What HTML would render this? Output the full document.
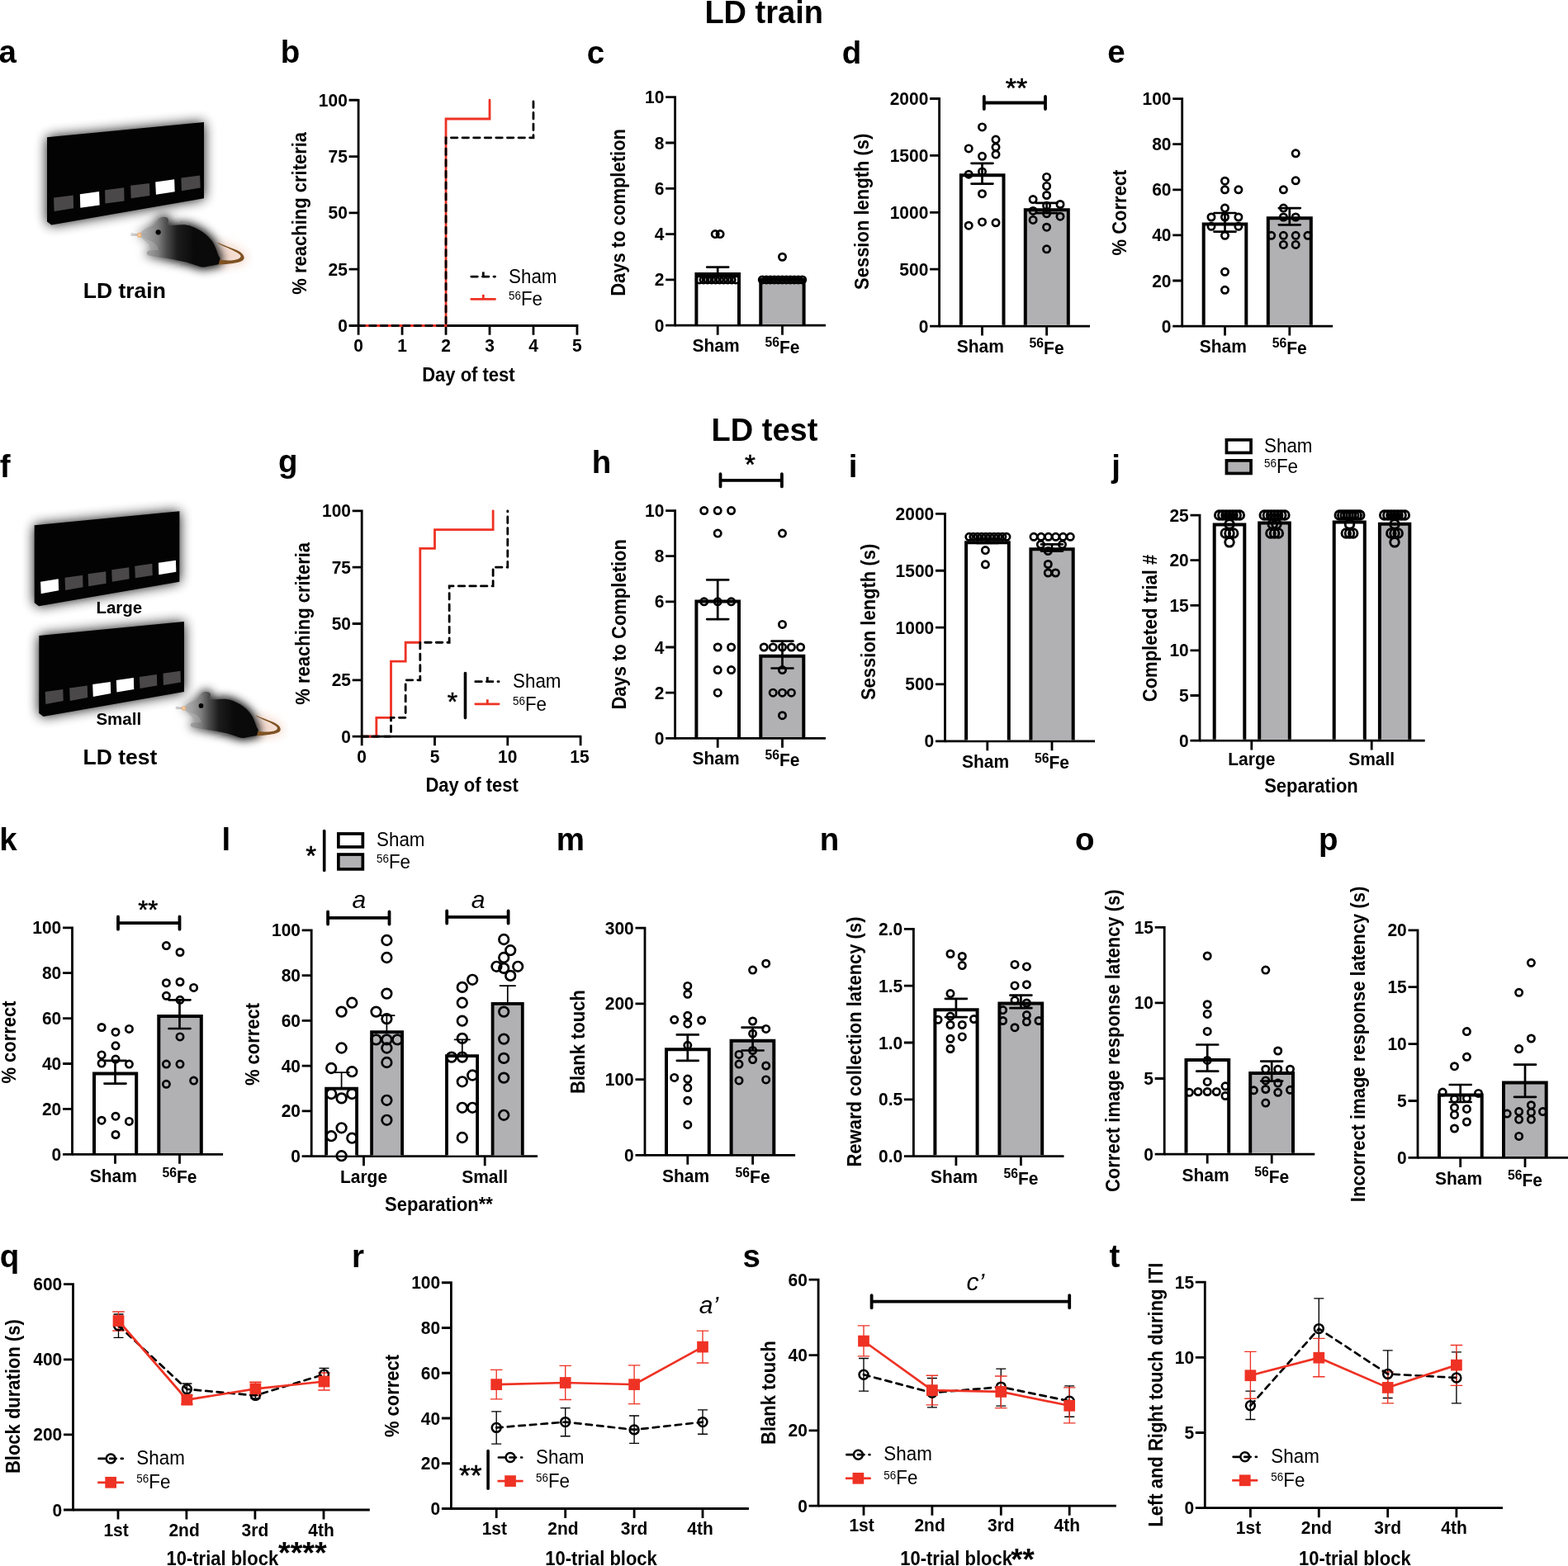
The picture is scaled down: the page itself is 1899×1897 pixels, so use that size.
<!DOCTYPE html>
<html lang="en"><head><meta charset="utf-8"><title>LD train / LD test</title>
<style>html,body{margin:0;padding:0;background:#fff}svg{display:block}text{font-family:"Liberation Sans",Arial,Helvetica,sans-serif;font-weight:bold;fill:#000}.n{font-weight:normal}</style>
</head><body>
<svg width="1899" height="1897" viewBox="0 0 1899 1897">
<rect width="1899" height="1897" fill="#fff"/>
<defs><filter id="glow" x="-30%" y="-30%" width="160%" height="160%"><feGaussianBlur stdDeviation="7.5"/></filter><filter id="mglow" x="-30%" y="-40%" width="160%" height="180%"><feGaussianBlur stdDeviation="62"/></filter><linearGradient id="mgrad" gradientUnits="userSpaceOnUse" x1="300" y1="0" x2="1000" y2="0"><stop offset="0" stop-color="#bcbcbc"/><stop offset="0.2" stop-color="#9a9a9a"/><stop offset="0.35" stop-color="#7e7e7e"/><stop offset="0.5" stop-color="#4c4d4c"/><stop offset="0.7" stop-color="#1b1c1b"/><stop offset="1" stop-color="#0a0a0a"/></linearGradient><linearGradient id="mgrad2" gradientUnits="userSpaceOnUse" x1="300" y1="0" x2="1000" y2="0"><stop offset="0" stop-color="#b4b4b4" stop-opacity="0.6"/><stop offset="0.3" stop-color="#666"/><stop offset="0.6" stop-color="#1a1a1a"/><stop offset="1" stop-color="#000"/></linearGradient><linearGradient id="pgrad" gradientUnits="userSpaceOnUse" x1="420" y1="0" x2="560" y2="0"><stop offset="0" stop-color="#b0b0b0"/><stop offset="1" stop-color="#8a8a8a"/></linearGradient><radialGradient id="ngrad"><stop offset="0" stop-color="#fbd9b5"/><stop offset="0.7" stop-color="#f0b880"/><stop offset="1" stop-color="#e0a878"/></radialGradient></defs>
<polygon points="57,166.32 247,148.04 247,240.17 62.38,272.43 57,268.49" fill="#000" filter="url(#glow)" opacity="0.95"/>
<polygon points="57,166.32 247,148.04 247,240.17 62.38,272.43 57,268.49" fill="#030303"/>
<polygon points="65.07,239.45 88.73,236.58 89.08,252.36 65.6,255.94" fill="#4a4849"/>
<polygon points="96.79,235.33 120.09,232.1 120.63,248.41 97.33,251.82" fill="#fff"/>
<polygon points="127.08,230.13 150.21,227.26 150.56,243.39 127.44,246.62" fill="#4a4849"/>
<polygon points="158.09,224.75 181.04,221.89 181.39,237.12 158.63,240.17" fill="#4a4849"/>
<polygon points="188.21,220.45 211.15,217.23 211.69,232.28 188.92,235.87" fill="#fff"/>
<polygon points="219.39,215.61 242.16,212.56 242.7,227.62 219.93,231.21" fill="#4a4849"/>
<g transform="translate(140 250) scale(0.09479)">
<path d="M1320 470 C1500 520 1660 600 1650 670 C1640 720 1500 740 1320 745 Z" fill="#e6a98c" stroke="#e6a98c" stroke-width="60" filter="url(#mglow)" opacity="0.42"/>
<path d="M300 348 C340 310 400 272 470 250 C500 240 515 215 530 190 C545 160 565 138 600 136 C640 134 668 140 674 172 C678 200 665 222 645 236 C700 250 760 240 850 236 C930 234 1000 262 1090 314 C1170 362 1230 430 1262 492 C1290 550 1300 600 1318 636 C1338 658 1340 672 1328 690 L1316 742 C1260 752 1200 760 1150 772 C1110 780 1080 772 1040 756 C960 726 860 700 760 682 C660 664 560 648 470 636 C430 632 400 625 398 600 C396 575 420 562 450 562 C490 562 530 570 560 560 C556 520 520 480 470 458 C420 436 380 420 345 392 C330 384 312 382 300 380 Z" fill="url(#mgrad2)" stroke="url(#mgrad2)" stroke-width="60" filter="url(#mglow)" opacity="1"/>
<path d="M1300 462 C1380 496 1470 526 1548 560 C1606 588 1646 622 1642 662 C1636 700 1580 716 1500 728 C1440 738 1380 742 1314 744 L1318 676 C1400 698 1490 694 1550 678 C1600 664 1608 640 1588 618 C1540 572 1400 524 1310 476 Z" fill="#7f5222"/>
<path d="M300 348 C340 310 400 272 470 250 C500 240 515 215 530 190 C545 160 565 138 600 136 C640 134 668 140 674 172 C678 200 665 222 645 236 C700 250 760 240 850 236 C930 234 1000 262 1090 314 C1170 362 1230 430 1262 492 C1290 550 1300 600 1318 636 C1338 658 1340 672 1328 690 L1316 742 C1260 752 1200 760 1150 772 C1110 780 1080 772 1040 756 C960 726 860 700 760 682 C660 664 560 648 470 636 C430 632 400 625 398 600 C396 575 420 562 450 562 C490 562 530 570 560 560 C556 520 520 480 470 458 C420 436 380 420 345 392 C330 384 312 382 300 380 Z" fill="url(#mgrad)"/>
<path d="M430 440 C480 450 540 490 556 558 C520 566 480 560 450 562 C440 530 430 480 420 445 Z" fill="url(#pgrad)"/>
<g stroke="#9a9a9a" stroke-width="6" fill="none"><path d="M300 360 L195 345"/><path d="M300 364 L192 360"/><path d="M300 368 L198 374"/><path d="M305 362 L408 360"/><path d="M310 372 C360 400 400 430 440 490"/><path d="M310 378 C350 410 390 450 420 470"/></g>
<circle cx="304" cy="366" r="31" fill="url(#ngrad)"/>
<circle cx="545" cy="330" r="33" fill="#000"/>
</g>
<text x="150.8" y="361.2" font-size="26.5" text-anchor="middle">LD train</text>
<polygon points="41.67,636.19 217.35,619.16 217.35,704.7 47.08,734.34 41.67,730.34" fill="#000" filter="url(#glow)" opacity="0.95"/>
<polygon points="41.67,636.19 217.35,619.16 217.35,704.7 47.08,734.34 41.67,730.34" fill="#030303"/>
<polygon points="49.08,704.7 70.71,701.29 71.11,715.31 49.68,719.32" fill="#fff"/>
<polygon points="78.53,699.69 100.16,696.68 100.56,711.31 79.13,714.91" fill="#4a4849"/>
<polygon points="106.57,695.28 128.21,692.28 128.61,706.7 107.17,710.3" fill="#4a4849"/>
<polygon points="135.22,690.27 156.25,687.27 156.65,701.29 135.82,704.7" fill="#4a4849"/>
<polygon points="163.26,685.87 184.29,682.86 184.7,696.88 163.86,700.29" fill="#4a4849"/>
<polygon points="191.91,681.86 212.94,678.85 213.34,692.68 192.31,696.28" fill="#fff"/>
<polygon points="47.28,770 222.96,752.97 222.96,838.11 52.48,867.96 47.28,863.95" fill="#000" filter="url(#glow)" opacity="0.95"/>
<polygon points="47.28,770 222.96,752.97 222.96,838.11 52.48,867.96 47.28,863.95" fill="#030303"/>
<polygon points="54.69,838.11 76.32,834.9 76.72,848.93 55.29,852.93" fill="#4a4849"/>
<polygon points="84.13,833.5 105.77,830.5 106.17,844.92 84.74,848.93" fill="#4a4849"/>
<polygon points="112.18,829.09 133.81,825.89 134.21,840.11 112.78,843.92" fill="#fff"/>
<polygon points="140.83,824.09 161.86,820.88 162.26,834.9 141.43,838.51" fill="#fff"/>
<polygon points="168.87,819.88 189.9,816.88 190.3,830.5 169.47,834.1" fill="#4a4849"/>
<polygon points="197.52,815.87 218.55,812.87 218.95,826.49 197.92,830.1" fill="#4a4849"/>
<g transform="translate(195.75 826.01) scale(0.08768)">
<path d="M1320 470 C1500 520 1660 600 1650 670 C1640 720 1500 740 1320 745 Z" fill="#e6a98c" stroke="#e6a98c" stroke-width="60" filter="url(#mglow)" opacity="0.42"/>
<path d="M300 348 C340 310 400 272 470 250 C500 240 515 215 530 190 C545 160 565 138 600 136 C640 134 668 140 674 172 C678 200 665 222 645 236 C700 250 760 240 850 236 C930 234 1000 262 1090 314 C1170 362 1230 430 1262 492 C1290 550 1300 600 1318 636 C1338 658 1340 672 1328 690 L1316 742 C1260 752 1200 760 1150 772 C1110 780 1080 772 1040 756 C960 726 860 700 760 682 C660 664 560 648 470 636 C430 632 400 625 398 600 C396 575 420 562 450 562 C490 562 530 570 560 560 C556 520 520 480 470 458 C420 436 380 420 345 392 C330 384 312 382 300 380 Z" fill="url(#mgrad2)" stroke="url(#mgrad2)" stroke-width="60" filter="url(#mglow)" opacity="1"/>
<path d="M1300 462 C1380 496 1470 526 1548 560 C1606 588 1646 622 1642 662 C1636 700 1580 716 1500 728 C1440 738 1380 742 1314 744 L1318 676 C1400 698 1490 694 1550 678 C1600 664 1608 640 1588 618 C1540 572 1400 524 1310 476 Z" fill="#7f5222"/>
<path d="M300 348 C340 310 400 272 470 250 C500 240 515 215 530 190 C545 160 565 138 600 136 C640 134 668 140 674 172 C678 200 665 222 645 236 C700 250 760 240 850 236 C930 234 1000 262 1090 314 C1170 362 1230 430 1262 492 C1290 550 1300 600 1318 636 C1338 658 1340 672 1328 690 L1316 742 C1260 752 1200 760 1150 772 C1110 780 1080 772 1040 756 C960 726 860 700 760 682 C660 664 560 648 470 636 C430 632 400 625 398 600 C396 575 420 562 450 562 C490 562 530 570 560 560 C556 520 520 480 470 458 C420 436 380 420 345 392 C330 384 312 382 300 380 Z" fill="url(#mgrad)"/>
<path d="M430 440 C480 450 540 490 556 558 C520 566 480 560 450 562 C440 530 430 480 420 445 Z" fill="url(#pgrad)"/>
<g stroke="#9a9a9a" stroke-width="6" fill="none"><path d="M300 360 L195 345"/><path d="M300 364 L192 360"/><path d="M300 368 L198 374"/><path d="M305 362 L408 360"/><path d="M310 372 C360 400 400 430 440 490"/><path d="M310 378 C350 410 390 450 420 470"/></g>
<circle cx="304" cy="366" r="31" fill="url(#ngrad)"/>
<circle cx="545" cy="330" r="33" fill="#000"/>
</g>
<text x="144.3" y="743" font-size="20.5" text-anchor="middle">Large</text>
<text x="143.8" y="878.2" font-size="20.5" text-anchor="middle">Small</text>
<text x="145.5" y="925.7" font-size="26.5" text-anchor="middle">LD test</text>
<text x="925.2" y="27.6" font-size="38" text-anchor="middle">LD train</text>
<text x="926" y="533.7" font-size="38" text-anchor="middle">LD test</text>
<text x="-1.54" y="75.8" font-size="38.5">a</text>
<text x="339.7" y="75.8" font-size="38.5">b</text>
<text x="710.66" y="76.9" font-size="38.5">c</text>
<text x="1019.66" y="76.9" font-size="38.5">d</text>
<text x="1341.25" y="76.3" font-size="38.5">e</text>
<text x="-0.39" y="578.1" font-size="38.5">f</text>
<text x="336.96" y="572.4" font-size="38.5">g</text>
<text x="716.8" y="573" font-size="38.5">h</text>
<text x="1027.81" y="578.1" font-size="38.5">i</text>
<text x="1346.25" y="577.7" font-size="38.5">j</text>
<text x="-0.7" y="1029.6" font-size="38.5">k</text>
<text x="268.61" y="1029.6" font-size="38.5">l</text>
<text x="673.7" y="1029.6" font-size="38.5">m</text>
<text x="992.7" y="1029.6" font-size="38.5">n</text>
<text x="1302.06" y="1029.6" font-size="38.5">o</text>
<text x="1597.11" y="1029.6" font-size="38.5">p</text>
<text x="-0.34" y="1534.7" font-size="38.5">q</text>
<text x="426.11" y="1535" font-size="38.5">r</text>
<text x="899.45" y="1535" font-size="38.5">s</text>
<text x="1343.41" y="1535" font-size="38.5">t</text>
<path d="M434.1 119.9 V395.9 M422.6 394.5 H434.1 M422.6 326.19 H434.1 M422.6 257.88 H434.1 M422.6 189.57 H434.1 M422.6 121.26 H434.1" fill="none" stroke="#000" stroke-width="2.8"/>
<text x="420.9" y="402.05" transform="matrix(1 0 0 1.06 0 -24.123)" font-size="21" text-anchor="end">0</text>
<text x="420.9" y="333.74" transform="matrix(1 0 0 1.06 0 -20.0244)" font-size="21" text-anchor="end">25</text>
<text x="420.9" y="265.43" transform="matrix(1 0 0 1.06 0 -15.9258)" font-size="21" text-anchor="end">50</text>
<text x="420.9" y="197.12" transform="matrix(1 0 0 1.06 0 -11.8272)" font-size="21" text-anchor="end">75</text>
<text x="420.9" y="128.81" transform="matrix(1 0 0 1.06 0 -7.7286)" font-size="21" text-anchor="end">100</text>
<path d="M432.7 394.5 H700.4 M434.1 394.5 V405.7 M487.07 394.5 V405.7 M540.04 394.5 V405.7 M593.01 394.5 V405.7 M645.98 394.5 V405.7 M698.95 394.5 V405.7" fill="none" stroke="#000" stroke-width="2.8"/>
<text x="434.1" y="426.1" transform="matrix(1 0 0 1.06 0 -25.566)" font-size="21" text-anchor="middle">0</text>
<text x="487.07" y="426.1" transform="matrix(1 0 0 1.06 0 -25.566)" font-size="21" text-anchor="middle">1</text>
<text x="540.04" y="426.1" transform="matrix(1 0 0 1.06 0 -25.566)" font-size="21" text-anchor="middle">2</text>
<text x="593.01" y="426.1" transform="matrix(1 0 0 1.06 0 -25.566)" font-size="21" text-anchor="middle">3</text>
<text x="645.98" y="426.1" transform="matrix(1 0 0 1.06 0 -25.566)" font-size="21" text-anchor="middle">4</text>
<text x="698.95" y="426.1" transform="matrix(1 0 0 1.06 0 -25.566)" font-size="21" text-anchor="middle">5</text>
<text x="371" y="258.3" transform="rotate(-90 371 258.3) matrix(1 0 0 1.06 0 -15.498)" font-size="22" text-anchor="middle">% reaching criteria</text>
<text x="567.4" y="461.6" transform="matrix(1 0 0 1.06 0 -27.696)" font-size="22" text-anchor="middle">Day of test</text>
<path d="M434.1 394.5 L540.04 394.5 L540.04 144.02 L593.01 144.02 L593.01 121.26" fill="none" stroke="#ee3224" stroke-width="2.8" stroke-linecap="round" stroke-linejoin="miter"/>
<path d="M434.1 394.5 L540.04 394.5 L540.04 166.81 L645.98 166.81 L645.98 121.26" fill="none" stroke="#000" stroke-width="2.8" stroke-linecap="round" stroke-linejoin="miter" stroke-dasharray="7.5 6.1"/>
<path d="M570.8 335.1 H599.5" fill="none" stroke="#000" stroke-width="2.8" stroke-linecap="round" stroke-dasharray="7.5 6.1"/>
<path d="M585.3 329.4 V335.1" fill="none" stroke="#000" stroke-width="2.8"/>
<text x="616" y="342.9" transform="matrix(1 0 0 1.06 0 -20.574)" font-size="22.4" class="n">Sham</text>
<path d="M570.8 362.4 H599.5" fill="none" stroke="#ee3224" stroke-width="2.8" stroke-linecap="round"/>
<path d="M585.3 356.9 V362.4" fill="none" stroke="#ee3224" stroke-width="2.8"/>
<text x="616" y="370" transform="matrix(1 0 0 1.06 0 -22.2)" font-size="22.4" class="n"><tspan font-size="13.44" dy="-6.5">56</tspan><tspan dy="6.5">Fe</tspan></text>
<path d="M817.6 116.3 V395.6 M806.1 394.2 H817.6 M806.1 338.9 H817.6 M806.1 283.6 H817.6 M806.1 228.3 H817.6 M806.1 173 H817.6 M806.1 117.7 H817.6" fill="none" stroke="#000" stroke-width="2.8"/>
<text x="804.4" y="401.75" transform="matrix(1 0 0 1.06 0 -24.105)" font-size="21" text-anchor="end">0</text>
<text x="804.4" y="346.45" transform="matrix(1 0 0 1.06 0 -20.787)" font-size="21" text-anchor="end">2</text>
<text x="804.4" y="291.15" transform="matrix(1 0 0 1.06 0 -17.469)" font-size="21" text-anchor="end">4</text>
<text x="804.4" y="235.85" transform="matrix(1 0 0 1.06 0 -14.151)" font-size="21" text-anchor="end">6</text>
<text x="804.4" y="180.55" transform="matrix(1 0 0 1.06 0 -10.833)" font-size="21" text-anchor="end">8</text>
<text x="804.4" y="125.25" transform="matrix(1 0 0 1.06 0 -7.515)" font-size="21" text-anchor="end">10</text>
<path d="M817.6 394.2 H1000 M869.2 394.2 V405.7 M947.5 394.2 V405.7" fill="none" stroke="#000" stroke-width="2.8"/>
<text x="867" y="425.8" transform="matrix(1 0 0 1.06 0 -25.548)" font-size="21" text-anchor="middle">Sham</text>
<text x="947.5" y="427.6" transform="matrix(1 0 0 1.06 0 -25.656)" font-size="21" text-anchor="middle"><tspan font-size="15.75" dy="-7.14">56</tspan><tspan dy="7.14">Fe</tspan></text>
<text x="757.4" y="257.4" transform="rotate(-90 757.4 257.4) matrix(1 0 0 1.06 0 -15.444)" font-size="22" text-anchor="middle">Days to completion</text>
<path d="M843.4 392.9V331.9H895V392.9" fill="#fff" stroke="#000" stroke-width="4"/>
<path d="M921.3 392.9V338.5H973.6V392.9" fill="#b1b1b3" stroke="#000" stroke-width="4"/>
<path d="M869.2 323.6 V331 M856.2 323.6 H882.2" fill="none" stroke="#000" stroke-width="2.7" stroke-linecap="round"/>
<g fill="none" stroke="#000" stroke-width="2.7">
<circle cx="866.2" cy="283.6" r="4.15"/>
<circle cx="872.1" cy="283.6" r="4.15"/>
<circle cx="847.2" cy="338.9" r="4.15"/>
<circle cx="852.08" cy="338.9" r="4.15"/>
<circle cx="856.96" cy="338.9" r="4.15"/>
<circle cx="861.84" cy="338.9" r="4.15"/>
<circle cx="866.72" cy="338.9" r="4.15"/>
<circle cx="871.6" cy="338.9" r="4.15"/>
<circle cx="876.48" cy="338.9" r="4.15"/>
<circle cx="881.36" cy="338.9" r="4.15"/>
<circle cx="886.24" cy="338.9" r="4.15"/>
<circle cx="891.12" cy="338.9" r="4.15"/>
</g>
<g fill="none" stroke="#000" stroke-width="2.7">
<circle cx="947.5" cy="311.25" r="4.15"/>
<circle cx="923.3" cy="338.9" r="4.15"/>
<circle cx="928.14" cy="338.9" r="4.15"/>
<circle cx="932.98" cy="338.9" r="4.15"/>
<circle cx="937.82" cy="338.9" r="4.15"/>
<circle cx="942.66" cy="338.9" r="4.15"/>
<circle cx="947.5" cy="338.9" r="4.15"/>
<circle cx="952.34" cy="338.9" r="4.15"/>
<circle cx="957.18" cy="338.9" r="4.15"/>
<circle cx="962.02" cy="338.9" r="4.15"/>
<circle cx="966.86" cy="338.9" r="4.15"/>
<circle cx="971.7" cy="338.9" r="4.15"/>
</g>
<path d="M1137.6 118.1 V396.5 M1126.1 395.1 H1137.6 M1126.1 326.2 H1137.6 M1126.1 257.3 H1137.6 M1126.1 188.4 H1137.6 M1126.1 119.5 H1137.6" fill="none" stroke="#000" stroke-width="2.8"/>
<text x="1124.4" y="402.65" transform="matrix(1 0 0 1.06 0 -24.159)" font-size="21" text-anchor="end">0</text>
<text x="1124.4" y="333.75" transform="matrix(1 0 0 1.06 0 -20.025)" font-size="21" text-anchor="end">500</text>
<text x="1124.4" y="264.85" transform="matrix(1 0 0 1.06 0 -15.891)" font-size="21" text-anchor="end">1000</text>
<text x="1124.4" y="195.95" transform="matrix(1 0 0 1.06 0 -11.757)" font-size="21" text-anchor="end">1500</text>
<text x="1124.4" y="127.05" transform="matrix(1 0 0 1.06 0 -7.623)" font-size="21" text-anchor="end">2000</text>
<path d="M1137.6 395.1 H1320 M1189.5 395.1 V406.6 M1267.6 395.1 V406.6" fill="none" stroke="#000" stroke-width="2.8"/>
<text x="1187.3" y="427.2" transform="matrix(1 0 0 1.06 0 -25.632)" font-size="21" text-anchor="middle">Sham</text>
<text x="1267.6" y="429" transform="matrix(1 0 0 1.06 0 -25.74)" font-size="21" text-anchor="middle"><tspan font-size="15.75" dy="-7.14">56</tspan><tspan dy="7.14">Fe</tspan></text>
<text x="1052" y="256.3" transform="rotate(-90 1052 256.3) matrix(1 0 0 1.06 0 -15.378)" font-size="22" text-anchor="middle">Session length (s)</text>
<path d="M1163.9 393.8V212.3H1215.5V393.8" fill="#fff" stroke="#000" stroke-width="4"/>
<path d="M1241.8 393.8V254.3H1293.8V393.8" fill="#b1b1b3" stroke="#000" stroke-width="4"/>
<path d="M1189.5 197.8 V222.6 M1176.5 197.8 H1202.5 M1176.5 222.6 H1202.5" fill="none" stroke="#000" stroke-width="2.7" stroke-linecap="round"/>
<path d="M1267.6 245.8 V258.2 M1254.6 245.8 H1280.6 M1254.6 258.2 H1280.6" fill="none" stroke="#000" stroke-width="2.7" stroke-linecap="round"/>
<g fill="none" stroke="#000" stroke-width="2.7">
<circle cx="1189.5" cy="153.9" r="4.15"/>
<circle cx="1206" cy="169.1" r="4.15"/>
<circle cx="1206" cy="178.3" r="4.15"/>
<circle cx="1206" cy="187.1" r="4.15"/>
<circle cx="1173.2" cy="179.9" r="4.15"/>
<circle cx="1189.5" cy="189.3" r="4.15"/>
<circle cx="1173.2" cy="211.2" r="4.15"/>
<circle cx="1189.5" cy="207.9" r="4.15"/>
<circle cx="1189.5" cy="234.7" r="4.15"/>
<circle cx="1173.2" cy="273.2" r="4.15"/>
<circle cx="1189.5" cy="268.9" r="4.15"/>
<circle cx="1206" cy="269.8" r="4.15"/>
</g>
<g fill="none" stroke="#000" stroke-width="2.7">
<circle cx="1267.6" cy="214.4" r="4.15"/>
<circle cx="1267.6" cy="225.4" r="4.15"/>
<circle cx="1267.6" cy="236.5" r="4.15"/>
<circle cx="1251.1" cy="241.6" r="4.15"/>
<circle cx="1284" cy="247.5" r="4.15"/>
<circle cx="1267.6" cy="249.2" r="4.15"/>
<circle cx="1251.1" cy="255.4" r="4.15"/>
<circle cx="1267.6" cy="258.8" r="4.15"/>
<circle cx="1284" cy="262.2" r="4.15"/>
<circle cx="1251.1" cy="266.4" r="4.15"/>
<circle cx="1267.6" cy="275.2" r="4.15"/>
<circle cx="1267.6" cy="301.8" r="4.15"/>
</g>
<path d="M1191.8 124.5 H1266 M1191.8 116.9 V132.1 M1266 116.9 V132.1" fill="none" stroke="#000" stroke-width="3.8" stroke-linecap="round"/>
<text x="1231.1" y="118.2" font-size="34" class="n" text-anchor="middle" stroke="#000" stroke-width="0.5">**</text>
<path d="M1431.7 118.2 V396.5 M1420.2 395.1 H1431.7 M1420.2 340 H1431.7 M1420.2 284.9 H1431.7 M1420.2 229.8 H1431.7 M1420.2 174.7 H1431.7 M1420.2 119.6 H1431.7" fill="none" stroke="#000" stroke-width="2.8"/>
<text x="1418.5" y="402.65" transform="matrix(1 0 0 1.06 0 -24.159)" font-size="21" text-anchor="end">0</text>
<text x="1418.5" y="347.55" transform="matrix(1 0 0 1.06 0 -20.853)" font-size="21" text-anchor="end">20</text>
<text x="1418.5" y="292.45" transform="matrix(1 0 0 1.06 0 -17.547)" font-size="21" text-anchor="end">40</text>
<text x="1418.5" y="237.35" transform="matrix(1 0 0 1.06 0 -14.241)" font-size="21" text-anchor="end">60</text>
<text x="1418.5" y="182.25" transform="matrix(1 0 0 1.06 0 -10.935)" font-size="21" text-anchor="end">80</text>
<text x="1418.5" y="127.15" transform="matrix(1 0 0 1.06 0 -7.629)" font-size="21" text-anchor="end">100</text>
<path d="M1431.7 395.1 H1614.2 M1483.5 395.1 V406.6 M1561.8 395.1 V406.6" fill="none" stroke="#000" stroke-width="2.8"/>
<text x="1481.3" y="427.2" transform="matrix(1 0 0 1.06 0 -25.632)" font-size="21" text-anchor="middle">Sham</text>
<text x="1561.8" y="429" transform="matrix(1 0 0 1.06 0 -25.74)" font-size="21" text-anchor="middle"><tspan font-size="15.75" dy="-7.14">56</tspan><tspan dy="7.14">Fe</tspan></text>
<text x="1364.5" y="257.5" transform="rotate(-90 1364.5 257.5) matrix(1 0 0 1.06 0 -15.45)" font-size="22" text-anchor="middle">% Correct</text>
<path d="M1457.7 393.8V271.4H1509.3V393.8" fill="#fff" stroke="#000" stroke-width="4"/>
<path d="M1535.8 393.8V264.2H1587.8V393.8" fill="#b1b1b3" stroke="#000" stroke-width="4"/>
<path d="M1483.5 258 V280.7 M1470.5 258 H1496.5 M1470.5 280.7 H1496.5" fill="none" stroke="#000" stroke-width="2.7" stroke-linecap="round"/>
<path d="M1561.8 252.1 V272.3 M1548.8 252.1 H1574.8 M1548.8 272.3 H1574.8" fill="none" stroke="#000" stroke-width="2.7" stroke-linecap="round"/>
<g fill="none" stroke="#000" stroke-width="2.7">
<circle cx="1483.5" cy="219.2" r="4.15"/>
<circle cx="1483.5" cy="229.8" r="4.15"/>
<circle cx="1499.9" cy="229.8" r="4.15"/>
<circle cx="1483.5" cy="252.1" r="4.15"/>
<circle cx="1467" cy="263" r="4.15"/>
<circle cx="1483.5" cy="263" r="4.15"/>
<circle cx="1499.9" cy="263" r="4.15"/>
<circle cx="1467" cy="274.3" r="4.15"/>
<circle cx="1499.9" cy="274.3" r="4.15"/>
<circle cx="1483.5" cy="285.3" r="4.15"/>
<circle cx="1483.5" cy="329.3" r="4.15"/>
<circle cx="1483.5" cy="351.3" r="4.15"/>
</g>
<g fill="none" stroke="#000" stroke-width="2.7">
<circle cx="1569.2" cy="185.8" r="4.15"/>
<circle cx="1569.2" cy="218.8" r="4.15"/>
<circle cx="1554.4" cy="229.8" r="4.15"/>
<circle cx="1554.4" cy="252.1" r="4.15"/>
<circle cx="1554.4" cy="263" r="4.15"/>
<circle cx="1569.2" cy="263" r="4.15"/>
<circle cx="1539.7" cy="285.3" r="4.15"/>
<circle cx="1554.4" cy="285.3" r="4.15"/>
<circle cx="1569.2" cy="285.3" r="4.15"/>
<circle cx="1583.9" cy="285.3" r="4.15"/>
<circle cx="1554.4" cy="296.4" r="4.15"/>
<circle cx="1569.2" cy="296.4" r="4.15"/>
</g>
<text x="375" y="755.3" transform="rotate(-90 375 755.3) matrix(1 0 0 1.06 0 -45.318)" font-size="22" text-anchor="middle">% reaching criteria</text>
<text x="571.6" y="958.6" transform="matrix(1 0 0 1.06 0 -57.516)" font-size="22" text-anchor="middle">Day of test</text>
<path d="M438.2 892.1 L455.86 892.1 L455.86 869.34 L473.52 869.34 L473.52 801.03 L491.18 801.03 L491.18 778.24 L508.84 778.24 L508.84 664.41 L526.5 664.41 L526.5 641.62 L597.14 641.62 L597.14 618.86" fill="none" stroke="#ee3224" stroke-width="2.8" stroke-linecap="round" stroke-linejoin="miter"/>
<path d="M438.2 892.1 L473.52 892.1 L473.52 869.34 L491.18 869.34 L491.18 823.79 L508.84 823.79 L508.84 778.24 L544.16 778.24 L544.16 709.93 L597.14 709.93 L597.14 687.17 L614.8 687.17 L614.8 618.86" fill="none" stroke="#000" stroke-width="2.8" stroke-linecap="round" stroke-linejoin="miter" stroke-dasharray="7.5 6.1"/>
<path d="M438.2 617.46 V893.5 M426.7 892.1 H438.2 M426.7 823.79 H438.2 M426.7 755.48 H438.2 M426.7 687.17 H438.2 M426.7 618.86 H438.2" fill="none" stroke="#000" stroke-width="2.8"/>
<text x="425" y="899.65" transform="matrix(1 0 0 1.06 0 -53.979)" font-size="21" text-anchor="end">0</text>
<text x="425" y="831.34" transform="matrix(1 0 0 1.06 0 -49.8804)" font-size="21" text-anchor="end">25</text>
<text x="425" y="763.03" transform="matrix(1 0 0 1.06 0 -45.7818)" font-size="21" text-anchor="end">50</text>
<text x="425" y="694.72" transform="matrix(1 0 0 1.06 0 -41.6832)" font-size="21" text-anchor="end">75</text>
<text x="425" y="626.41" transform="matrix(1 0 0 1.06 0 -37.5846)" font-size="21" text-anchor="end">100</text>
<path d="M436.8 892.1 H704.4 M438.2 892.1 V903.3 M526.5 892.1 V903.3 M614.8 892.1 V903.3 M703.1 892.1 V903.3" fill="none" stroke="#000" stroke-width="2.8"/>
<text x="438.2" y="923.7" transform="matrix(1 0 0 1.06 0 -55.422)" font-size="21" text-anchor="middle">0</text>
<text x="526.5" y="923.7" transform="matrix(1 0 0 1.06 0 -55.422)" font-size="21" text-anchor="middle">5</text>
<text x="614.8" y="923.7" transform="matrix(1 0 0 1.06 0 -55.422)" font-size="21" text-anchor="middle">10</text>
<text x="701.9" y="923.7" transform="matrix(1 0 0 1.06 0 -55.422)" font-size="21" text-anchor="middle">15</text>
<line x1="447.3" y1="892.1" x2="449.3" y2="892.1" stroke="#ee3224" stroke-width="2.8"/>
<path d="M575.8 825.7 H604.1" fill="none" stroke="#000" stroke-width="2.8" stroke-linecap="round" stroke-dasharray="7.5 6.1"/>
<path d="M590.3 820 V825.7" fill="none" stroke="#000" stroke-width="2.8"/>
<text x="621" y="833.3" transform="matrix(1 0 0 1.06 0 -49.998)" font-size="22.4" class="n">Sham</text>
<path d="M575.8 852.8 H604.1" fill="none" stroke="#ee3224" stroke-width="2.8" stroke-linecap="round"/>
<path d="M590.3 847.3 V852.8" fill="none" stroke="#ee3224" stroke-width="2.8"/>
<text x="621" y="860.6" transform="matrix(1 0 0 1.06 0 -51.636)" font-size="22.4" class="n"><tspan font-size="13.44" dy="-6.5">56</tspan><tspan dy="6.5">Fe</tspan></text>
<line x1="563.5" y1="815.6" x2="563.5" y2="869.6" stroke="#000" stroke-width="3.6" stroke-linecap="round"/>
<text x="548" y="860.8" font-size="32" class="n" text-anchor="middle" stroke="#000" stroke-width="0.5">*</text>
<path d="M817.6 617.15 V895.7 M806.1 894.3 H817.6 M806.1 839.15 H817.6 M806.1 784 H817.6 M806.1 728.85 H817.6 M806.1 673.7 H817.6 M806.1 618.55 H817.6" fill="none" stroke="#000" stroke-width="2.8"/>
<text x="804.4" y="901.85" transform="matrix(1 0 0 1.06 0 -54.111)" font-size="21" text-anchor="end">0</text>
<text x="804.4" y="846.7" transform="matrix(1 0 0 1.06 0 -50.802)" font-size="21" text-anchor="end">2</text>
<text x="804.4" y="791.55" transform="matrix(1 0 0 1.06 0 -47.493)" font-size="21" text-anchor="end">4</text>
<text x="804.4" y="736.4" transform="matrix(1 0 0 1.06 0 -44.184)" font-size="21" text-anchor="end">6</text>
<text x="804.4" y="681.25" transform="matrix(1 0 0 1.06 0 -40.875)" font-size="21" text-anchor="end">8</text>
<text x="804.4" y="626.1" transform="matrix(1 0 0 1.06 0 -37.566)" font-size="21" text-anchor="end">10</text>
<path d="M817.6 894.3 H1000 M869.2 894.3 V905.8 M947.5 894.3 V905.8" fill="none" stroke="#000" stroke-width="2.8"/>
<text x="867" y="926" transform="matrix(1 0 0 1.06 0 -55.56)" font-size="21" text-anchor="middle">Sham</text>
<text x="947.5" y="927.8" transform="matrix(1 0 0 1.06 0 -55.668)" font-size="21" text-anchor="middle"><tspan font-size="15.75" dy="-7.14">56</tspan><tspan dy="7.14">Fe</tspan></text>
<text x="758" y="756.3" transform="rotate(-90 758 756.3) matrix(1 0 0 1.06 0 -45.378)" font-size="22" text-anchor="middle">Days to Completion</text>
<path d="M843.4 893V728.5H895V893" fill="#fff" stroke="#000" stroke-width="4"/>
<path d="M921.3 893V794.8H973.3V893" fill="#b1b1b3" stroke="#000" stroke-width="4"/>
<path d="M869.2 702.4 V750.1 M856.2 702.4 H882.2 M856.2 750.1 H882.2" fill="none" stroke="#000" stroke-width="2.7" stroke-linecap="round"/>
<path d="M947.5 776.6 V809.5 M934.5 776.6 H960.5 M934.5 809.5 H960.5" fill="none" stroke="#000" stroke-width="2.7" stroke-linecap="round"/>
<g fill="none" stroke="#000" stroke-width="2.7">
<circle cx="852.7" cy="618.55" r="4.15"/>
<circle cx="869.2" cy="618.55" r="4.15"/>
<circle cx="885.6" cy="618.55" r="4.15"/>
<circle cx="869.2" cy="646.12" r="4.15"/>
<circle cx="852.7" cy="728.85" r="4.15"/>
<circle cx="869.2" cy="728.85" r="4.15"/>
<circle cx="885.6" cy="728.85" r="4.15"/>
<circle cx="869.2" cy="784" r="4.15"/>
<circle cx="885.6" cy="784" r="4.15"/>
<circle cx="869.2" cy="811.57" r="4.15"/>
<circle cx="885.6" cy="811.57" r="4.15"/>
<circle cx="869.2" cy="839.15" r="4.15"/>
</g>
<g fill="none" stroke="#000" stroke-width="2.7">
<circle cx="947.5" cy="646.12" r="4.15"/>
<circle cx="947.5" cy="756.42" r="4.15"/>
<circle cx="925.2" cy="784" r="4.15"/>
<circle cx="936.2" cy="784" r="4.15"/>
<circle cx="947.5" cy="784" r="4.15"/>
<circle cx="958.4" cy="784" r="4.15"/>
<circle cx="969.6" cy="784" r="4.15"/>
<circle cx="947.5" cy="811.57" r="4.15"/>
<circle cx="936.2" cy="839.15" r="4.15"/>
<circle cx="947.5" cy="839.15" r="4.15"/>
<circle cx="958.4" cy="839.15" r="4.15"/>
<circle cx="947.5" cy="866.72" r="4.15"/>
</g>
<path d="M872.5 581.8 H946.9 M872.5 574.2 V589.4 M946.9 574.2 V589.4" fill="none" stroke="#000" stroke-width="3.8" stroke-linecap="round"/>
<text x="908.5" y="573.7" font-size="33" class="n" text-anchor="middle" stroke="#000" stroke-width="0.5">*</text>
<path d="M1144.5 621 V899.2 M1133 897.8 H1144.5 M1133 828.95 H1144.5 M1133 760.1 H1144.5 M1133 691.25 H1144.5 M1133 622.4 H1144.5" fill="none" stroke="#000" stroke-width="2.8"/>
<text x="1131.3" y="905.35" transform="matrix(1 0 0 1.06 0 -54.321)" font-size="21" text-anchor="end">0</text>
<text x="1131.3" y="836.5" transform="matrix(1 0 0 1.06 0 -50.19)" font-size="21" text-anchor="end">500</text>
<text x="1131.3" y="767.65" transform="matrix(1 0 0 1.06 0 -46.059)" font-size="21" text-anchor="end">1000</text>
<text x="1131.3" y="698.8" transform="matrix(1 0 0 1.06 0 -41.928)" font-size="21" text-anchor="end">1500</text>
<text x="1131.3" y="629.95" transform="matrix(1 0 0 1.06 0 -37.797)" font-size="21" text-anchor="end">2000</text>
<path d="M1144.5 897.8 H1326 M1195.8 897.8 V909.3 M1274 897.8 V909.3" fill="none" stroke="#000" stroke-width="2.8"/>
<text x="1193.6" y="929.7" transform="matrix(1 0 0 1.06 0 -55.782)" font-size="21" text-anchor="middle">Sham</text>
<text x="1274" y="931.5" transform="matrix(1 0 0 1.06 0 -55.89)" font-size="21" text-anchor="middle"><tspan font-size="15.75" dy="-7.14">56</tspan><tspan dy="7.14">Fe</tspan></text>
<text x="1060.2" y="753.4" transform="rotate(-90 1060.2 753.4) matrix(1 0 0 1.06 0 -45.204)" font-size="22" text-anchor="middle">Session length (s)</text>
<path d="M1170.1 896.5V657.2H1221.8V896.5" fill="#fff" stroke="#000" stroke-width="4"/>
<path d="M1248.4 896.5V665.3H1299.7V896.5" fill="#b1b1b3" stroke="#000" stroke-width="4"/>
<path d="M1195.8 653 V658 M1182.8 653 H1208.8 M1182.8 658 H1208.8" fill="none" stroke="#000" stroke-width="2.7" stroke-linecap="round"/>
<path d="M1274 659.4 V667.6 M1261 659.4 H1287 M1261 667.6 H1287" fill="none" stroke="#000" stroke-width="2.7" stroke-linecap="round"/>
<g fill="none" stroke="#000" stroke-width="2.7">
<circle cx="1173.8" cy="650.3" r="4.15"/>
<circle cx="1178.82" cy="650.3" r="4.15"/>
<circle cx="1183.84" cy="650.3" r="4.15"/>
<circle cx="1188.86" cy="650.3" r="4.15"/>
<circle cx="1193.88" cy="650.3" r="4.15"/>
<circle cx="1198.9" cy="650.3" r="4.15"/>
<circle cx="1203.92" cy="650.3" r="4.15"/>
<circle cx="1208.94" cy="650.3" r="4.15"/>
<circle cx="1213.96" cy="650.3" r="4.15"/>
<circle cx="1218.98" cy="650.3" r="4.15"/>
<circle cx="1193.4" cy="666.6" r="4.15"/>
<circle cx="1193.4" cy="683.8" r="4.15"/>
</g>
<g fill="none" stroke="#000" stroke-width="2.7">
<circle cx="1252" cy="650.3" r="4.15"/>
<circle cx="1260.86" cy="650.3" r="4.15"/>
<circle cx="1269.72" cy="650.3" r="4.15"/>
<circle cx="1278.58" cy="650.3" r="4.15"/>
<circle cx="1287.44" cy="650.3" r="4.15"/>
<circle cx="1296.3" cy="650.3" r="4.15"/>
<circle cx="1260.4" cy="659.6" r="4.15"/>
<circle cx="1286.5" cy="659.6" r="4.15"/>
<circle cx="1269.3" cy="667.5" r="4.15"/>
<circle cx="1269.3" cy="683.5" r="4.15"/>
<circle cx="1269.3" cy="694" r="4.15"/>
<circle cx="1278.4" cy="694" r="4.15"/>
</g>
<path d="M1453 622.7 V898.5 M1441.5 897.1 H1453 M1441.5 842.5 H1453 M1441.5 787.9 H1453 M1441.5 733.3 H1453 M1441.5 678.7 H1453 M1441.5 624.1 H1453" fill="none" stroke="#000" stroke-width="2.8"/>
<text x="1439.8" y="904.65" transform="matrix(1 0 0 1.06 0 -54.279)" font-size="21" text-anchor="end">0</text>
<text x="1439.8" y="850.05" transform="matrix(1 0 0 1.06 0 -51.003)" font-size="21" text-anchor="end">5</text>
<text x="1439.8" y="795.45" transform="matrix(1 0 0 1.06 0 -47.727)" font-size="21" text-anchor="end">10</text>
<text x="1439.8" y="740.85" transform="matrix(1 0 0 1.06 0 -44.451)" font-size="21" text-anchor="end">15</text>
<text x="1439.8" y="686.25" transform="matrix(1 0 0 1.06 0 -41.175)" font-size="21" text-anchor="end">20</text>
<text x="1439.8" y="631.65" transform="matrix(1 0 0 1.06 0 -37.899)" font-size="21" text-anchor="end">25</text>
<path d="M1453 897.1 H1725.7 M1515.8 897.1 V908.6 M1661.2 897.1 V908.6" fill="none" stroke="#000" stroke-width="2.8"/>
<text x="1515.8" y="927.5" transform="matrix(1 0 0 1.06 0 -55.65)" font-size="21" text-anchor="middle">Large</text>
<text x="1661.2" y="927.5" transform="matrix(1 0 0 1.06 0 -55.65)" font-size="21" text-anchor="middle">Small</text>
<text x="1401.5" y="761" transform="rotate(-90 1401.5 761) matrix(1 0 0 1.06 0 -45.66)" font-size="22" text-anchor="middle">Completed trial #</text>
<text x="1588" y="960.3" transform="matrix(1 0 0 1.06 0 -57.618)" font-size="22" text-anchor="middle">Separation</text>
<path d="M1470.7 895.8V635.4H1507.3V895.8" fill="#fff" stroke="#000" stroke-width="4"/>
<path d="M1525.2 895.8V633.5H1561.8V895.8" fill="#b1b1b3" stroke="#000" stroke-width="4"/>
<path d="M1615.7 895.8V632.6H1652.8V895.8" fill="#fff" stroke="#000" stroke-width="4"/>
<path d="M1670.9 895.8V634.7H1707.3V895.8" fill="#b1b1b3" stroke="#000" stroke-width="4"/>
<g fill="none" stroke="#000" stroke-width="2.9">
<circle cx="1476.7" cy="624.1" r="5.3"/>
<circle cx="1480.8" cy="624.1" r="5.3"/>
<circle cx="1484.9" cy="624.1" r="5.3"/>
<circle cx="1489" cy="624.1" r="5.3"/>
<circle cx="1493.1" cy="624.1" r="5.3"/>
<circle cx="1497.2" cy="624.1" r="5.3"/>
<circle cx="1501.3" cy="624.1" r="5.3"/>
<circle cx="1489" cy="635.02" r="5.3"/>
<circle cx="1484.3" cy="645.94" r="5.3"/>
<circle cx="1489" cy="645.94" r="5.3"/>
<circle cx="1493.7" cy="645.94" r="5.3"/>
<circle cx="1489" cy="656.86" r="5.3"/>
</g>
<g fill="none" stroke="#000" stroke-width="2.9">
<circle cx="1531.3" cy="624.1" r="5.3"/>
<circle cx="1535.4" cy="624.1" r="5.3"/>
<circle cx="1539.5" cy="624.1" r="5.3"/>
<circle cx="1543.6" cy="624.1" r="5.3"/>
<circle cx="1547.7" cy="624.1" r="5.3"/>
<circle cx="1551.8" cy="624.1" r="5.3"/>
<circle cx="1555.9" cy="624.1" r="5.3"/>
<circle cx="1541.25" cy="635.02" r="5.3"/>
<circle cx="1545.95" cy="635.02" r="5.3"/>
<circle cx="1538.9" cy="645.94" r="5.3"/>
<circle cx="1543.6" cy="645.94" r="5.3"/>
<circle cx="1548.3" cy="645.94" r="5.3"/>
</g>
<g fill="none" stroke="#000" stroke-width="2.9">
<circle cx="1622.25" cy="624.1" r="5.3"/>
<circle cx="1625.75" cy="624.1" r="5.3"/>
<circle cx="1629.25" cy="624.1" r="5.3"/>
<circle cx="1632.75" cy="624.1" r="5.3"/>
<circle cx="1636.25" cy="624.1" r="5.3"/>
<circle cx="1639.75" cy="624.1" r="5.3"/>
<circle cx="1643.25" cy="624.1" r="5.3"/>
<circle cx="1646.75" cy="624.1" r="5.3"/>
<circle cx="1634.5" cy="635.02" r="5.3"/>
<circle cx="1630.3" cy="645.94" r="5.3"/>
<circle cx="1634.5" cy="645.94" r="5.3"/>
<circle cx="1638.7" cy="645.94" r="5.3"/>
</g>
<g fill="none" stroke="#000" stroke-width="2.9">
<circle cx="1676.7" cy="624.1" r="5.3"/>
<circle cx="1680.8" cy="624.1" r="5.3"/>
<circle cx="1684.9" cy="624.1" r="5.3"/>
<circle cx="1689" cy="624.1" r="5.3"/>
<circle cx="1693.1" cy="624.1" r="5.3"/>
<circle cx="1697.2" cy="624.1" r="5.3"/>
<circle cx="1701.3" cy="624.1" r="5.3"/>
<circle cx="1689" cy="635.02" r="5.3"/>
<circle cx="1684.8" cy="645.94" r="5.3"/>
<circle cx="1689" cy="645.94" r="5.3"/>
<circle cx="1693.2" cy="645.94" r="5.3"/>
<circle cx="1689" cy="656.86" r="5.3"/>
</g>
<rect x="1485.45" y="532.85" width="29.6" height="15.6" fill="#fff" stroke="#000" stroke-width="3.7"/>
<rect x="1485.45" y="557.85" width="29.6" height="15.6" fill="#b1b1b3" stroke="#000" stroke-width="3.7"/>
<text x="1531" y="547.6" transform="matrix(1 0 0 1.06 0 -32.856)" font-size="22.4" class="n">Sham</text>
<text x="1531" y="572.6" transform="matrix(1 0 0 1.06 0 -34.356)" font-size="22.4" class="n"><tspan font-size="13.44" dy="-6.5">56</tspan><tspan dy="6.5">Fe</tspan></text>
<path d="M87.5 1122.4 V1399.7 M76 1398.3 H87.5 M76 1343.4 H87.5 M76 1288.5 H87.5 M76 1233.6 H87.5 M76 1178.7 H87.5 M76 1123.8 H87.5" fill="none" stroke="#000" stroke-width="2.8"/>
<text x="74.3" y="1405.85" transform="matrix(1 0 0 1.06 0 -84.351)" font-size="21" text-anchor="end">0</text>
<text x="74.3" y="1350.95" transform="matrix(1 0 0 1.06 0 -81.057)" font-size="21" text-anchor="end">20</text>
<text x="74.3" y="1296.05" transform="matrix(1 0 0 1.06 0 -77.763)" font-size="21" text-anchor="end">40</text>
<text x="74.3" y="1241.15" transform="matrix(1 0 0 1.06 0 -74.469)" font-size="21" text-anchor="end">60</text>
<text x="74.3" y="1186.25" transform="matrix(1 0 0 1.06 0 -71.175)" font-size="21" text-anchor="end">80</text>
<text x="74.3" y="1131.35" transform="matrix(1 0 0 1.06 0 -67.881)" font-size="21" text-anchor="end">100</text>
<path d="M87.5 1398.3 H270.1 M139.5 1398.3 V1409.8 M217.5 1398.3 V1409.8" fill="none" stroke="#000" stroke-width="2.8"/>
<text x="137.3" y="1431.6" transform="matrix(1 0 0 1.06 0 -85.896)" font-size="21" text-anchor="middle">Sham</text>
<text x="217.5" y="1433.4" transform="matrix(1 0 0 1.06 0 -86.004)" font-size="21" text-anchor="middle"><tspan font-size="15.75" dy="-7.14">56</tspan><tspan dy="7.14">Fe</tspan></text>
<text x="18.6" y="1262.5" transform="rotate(-90 18.6 1262.5) matrix(1 0 0 1.06 0 -75.75)" font-size="22" text-anchor="middle">% correct</text>
<path d="M114 1397V1300.5H165.2V1397" fill="#fff" stroke="#000" stroke-width="4"/>
<path d="M192.3 1397V1231.1H243.8V1397" fill="#b1b1b3" stroke="#000" stroke-width="4"/>
<path d="M139.5 1284.8 V1312.6 M126.5 1284.8 H152.5 M126.5 1312.6 H152.5" fill="none" stroke="#000" stroke-width="2.7" stroke-linecap="round"/>
<path d="M217.5 1211.3 V1246 M204.5 1211.3 H230.5 M204.5 1246 H230.5" fill="none" stroke="#000" stroke-width="2.7" stroke-linecap="round"/>
<g fill="none" stroke="#000" stroke-width="2.7">
<circle cx="123.1" cy="1244.5" r="4.15"/>
<circle cx="140" cy="1250.2" r="4.15"/>
<circle cx="156.4" cy="1246.4" r="4.15"/>
<circle cx="140" cy="1266.8" r="4.15"/>
<circle cx="123.1" cy="1277.9" r="4.15"/>
<circle cx="140" cy="1283.1" r="4.15"/>
<circle cx="123.1" cy="1288.1" r="4.15"/>
<circle cx="156.4" cy="1289.1" r="4.15"/>
<circle cx="123.1" cy="1357.2" r="4.15"/>
<circle cx="140" cy="1352.2" r="4.15"/>
<circle cx="156.4" cy="1358.4" r="4.15"/>
<circle cx="140" cy="1374.5" r="4.15"/>
</g>
<g fill="none" stroke="#000" stroke-width="2.7">
<circle cx="201.4" cy="1145.6" r="4.15"/>
<circle cx="218" cy="1153.5" r="4.15"/>
<circle cx="201.4" cy="1190.7" r="4.15"/>
<circle cx="218" cy="1189.5" r="4.15"/>
<circle cx="234.6" cy="1196.4" r="4.15"/>
<circle cx="201.4" cy="1206.3" r="4.15"/>
<circle cx="218" cy="1211.3" r="4.15"/>
<circle cx="218" cy="1255.9" r="4.15"/>
<circle cx="201.4" cy="1289.1" r="4.15"/>
<circle cx="218" cy="1289.1" r="4.15"/>
<circle cx="234.6" cy="1309.1" r="4.15"/>
<circle cx="201.4" cy="1313.3" r="4.15"/>
</g>
<path d="M143 1118.1 H217.5 M143 1110.5 V1125.7 M217.5 1110.5 V1125.7" fill="none" stroke="#000" stroke-width="3.8" stroke-linecap="round"/>
<text x="179.3" y="1112.7" font-size="31" class="n" text-anchor="middle" stroke="#000" stroke-width="0.5">**</text>
<path d="M377.2 1125.5 V1402.1 M365.7 1400.7 H377.2 M365.7 1345.94 H377.2 M365.7 1291.18 H377.2 M365.7 1236.42 H377.2 M365.7 1181.66 H377.2 M365.7 1126.9 H377.2" fill="none" stroke="#000" stroke-width="2.8"/>
<text x="364" y="1408.25" transform="matrix(1 0 0 1.06 0 -84.495)" font-size="21" text-anchor="end">0</text>
<text x="364" y="1353.49" transform="matrix(1 0 0 1.06 0 -81.2094)" font-size="21" text-anchor="end">20</text>
<text x="364" y="1298.73" transform="matrix(1 0 0 1.06 0 -77.9238)" font-size="21" text-anchor="end">40</text>
<text x="364" y="1243.97" transform="matrix(1 0 0 1.06 0 -74.6382)" font-size="21" text-anchor="end">60</text>
<text x="364" y="1189.21" transform="matrix(1 0 0 1.06 0 -71.3526)" font-size="21" text-anchor="end">80</text>
<text x="364" y="1134.45" transform="matrix(1 0 0 1.06 0 -68.067)" font-size="21" text-anchor="end">100</text>
<path d="M377.2 1400.7 H651 M440.5 1400.7 V1412.2 M587.2 1400.7 V1412.2" fill="none" stroke="#000" stroke-width="2.8"/>
<text x="440.5" y="1432.9" transform="matrix(1 0 0 1.06 0 -85.974)" font-size="21" text-anchor="middle">Large</text>
<text x="587.2" y="1432.9" transform="matrix(1 0 0 1.06 0 -85.974)" font-size="21" text-anchor="middle">Small</text>
<text x="314" y="1265" transform="rotate(-90 314 1265) matrix(1 0 0 1.06 0 -75.9)" font-size="22" text-anchor="middle">% correct</text>
<text x="531.5" y="1466.8" transform="matrix(1 0 0 1.06 0 -88.008)" font-size="22" text-anchor="middle">Separation**</text>
<path d="M395.1 1399.4V1318.7H432.1V1399.4" fill="#fff" stroke="#000" stroke-width="3.8"/>
<path d="M450.1 1399.4V1250.2H487.1V1399.4" fill="#b1b1b3" stroke="#000" stroke-width="3.8"/>
<path d="M541 1399.4V1279.1H578.1V1399.4" fill="#fff" stroke="#000" stroke-width="3.8"/>
<path d="M596.6 1399.4V1215.9H632.8V1399.4" fill="#b1b1b3" stroke="#000" stroke-width="3.8"/>
<path d="M413.6 1299.2 V1317 M403.6 1299.2 H423.6" fill="none" stroke="#000" stroke-width="1.7" stroke-linecap="butt"/>
<path d="M468.4 1230.2 V1249 M458.4 1230.2 H478.4" fill="none" stroke="#000" stroke-width="1.7" stroke-linecap="butt"/>
<path d="M559.8 1259.4 V1278 M549.8 1259.4 H569.8" fill="none" stroke="#000" stroke-width="1.7" stroke-linecap="butt"/>
<path d="M614.8 1194.1 V1215 M604.8 1194.1 H624.8" fill="none" stroke="#000" stroke-width="1.7" stroke-linecap="butt"/>
<g fill="none" stroke="#000" stroke-width="2.7">
<circle cx="426.3" cy="1214.7" r="5.8"/>
<circle cx="413.6" cy="1225.6" r="5.8"/>
<circle cx="413.6" cy="1269.5" r="5.8"/>
<circle cx="401.2" cy="1294" r="5.8"/>
<circle cx="426.3" cy="1298.2" r="5.8"/>
<circle cx="401.2" cy="1325" r="5.8"/>
<circle cx="413.6" cy="1330.4" r="5.8"/>
<circle cx="426.3" cy="1325" r="5.8"/>
<circle cx="413.6" cy="1366.3" r="5.8"/>
<circle cx="401.2" cy="1376.2" r="5.8"/>
<circle cx="426.3" cy="1378.7" r="5.8"/>
<circle cx="413.6" cy="1400.2" r="5.8"/>
</g>
<g fill="none" stroke="#000" stroke-width="2.7">
<circle cx="468.4" cy="1139" r="5.8"/>
<circle cx="468.4" cy="1160" r="5.8"/>
<circle cx="468.4" cy="1203.6" r="5.8"/>
<circle cx="455.5" cy="1225.6" r="5.8"/>
<circle cx="468.4" cy="1234.1" r="5.8"/>
<circle cx="455.5" cy="1259.4" r="5.8"/>
<circle cx="468.4" cy="1259.4" r="5.8"/>
<circle cx="481.3" cy="1259.4" r="5.8"/>
<circle cx="468.4" cy="1269.5" r="5.8"/>
<circle cx="468.4" cy="1287" r="5.8"/>
<circle cx="468.4" cy="1332.8" r="5.8"/>
<circle cx="468.4" cy="1356.8" r="5.8"/>
</g>
<g fill="none" stroke="#000" stroke-width="2.7">
<circle cx="572.2" cy="1186.8" r="5.8"/>
<circle cx="559.8" cy="1195.9" r="5.8"/>
<circle cx="559.8" cy="1214.7" r="5.8"/>
<circle cx="559.8" cy="1236.7" r="5.8"/>
<circle cx="559.8" cy="1257.9" r="5.8"/>
<circle cx="546.9" cy="1280.6" r="5.8"/>
<circle cx="559.8" cy="1280.6" r="5.8"/>
<circle cx="572.2" cy="1302.5" r="5.8"/>
<circle cx="559.8" cy="1310.3" r="5.8"/>
<circle cx="559.8" cy="1341.8" r="5.8"/>
<circle cx="572.2" cy="1341.8" r="5.8"/>
<circle cx="559.8" cy="1378" r="5.8"/>
</g>
<g fill="none" stroke="#000" stroke-width="2.7">
<circle cx="610.2" cy="1138" r="5.8"/>
<circle cx="618.2" cy="1151.2" r="5.8"/>
<circle cx="610.2" cy="1160" r="5.8"/>
<circle cx="601.4" cy="1170.8" r="5.8"/>
<circle cx="610.2" cy="1172.9" r="5.8"/>
<circle cx="627.2" cy="1170.8" r="5.8"/>
<circle cx="618.2" cy="1181.9" r="5.8"/>
<circle cx="610.2" cy="1225.6" r="5.8"/>
<circle cx="610.2" cy="1258.6" r="5.8"/>
<circle cx="610.2" cy="1281.9" r="5.8"/>
<circle cx="610.2" cy="1305.6" r="5.8"/>
<circle cx="610.2" cy="1350.8" r="5.8"/>
</g>
<path d="M397.1 1111.9 H471.5 M397.1 1104.3 V1119.5 M471.5 1104.3 V1119.5" fill="none" stroke="#000" stroke-width="3.8" stroke-linecap="round"/>
<path d="M541.2 1110.9 H615.6 M541.2 1103.3 V1118.5 M615.6 1103.3 V1118.5" fill="none" stroke="#000" stroke-width="3.8" stroke-linecap="round"/>
<text x="434.8" y="1099.8" font-size="30" class="n" text-anchor="middle" font-style="italic">a</text>
<text x="579.2" y="1099.8" font-size="30" class="n" text-anchor="middle" font-style="italic">a</text>
<rect x="409.85" y="1009.95" width="29.5" height="16" fill="#fff" stroke="#000" stroke-width="3.7"/>
<rect x="409.85" y="1035.05" width="29.5" height="17.8" fill="#b1b1b3" stroke="#000" stroke-width="3.7"/>
<text x="456" y="1025.5" transform="matrix(1 0 0 1.06 0 -61.53)" font-size="22.4" class="n">Sham</text>
<text x="456" y="1052.4" transform="matrix(1 0 0 1.06 0 -63.144)" font-size="22.4" class="n"><tspan font-size="13.44" dy="-6.5">56</tspan><tspan dy="6.5">Fe</tspan></text>
<line x1="392.7" y1="1006.5" x2="392.7" y2="1054.4" stroke="#000" stroke-width="3.6" stroke-linecap="round"/>
<text x="376.7" y="1047.6" font-size="33" class="n" text-anchor="middle" stroke="#000" stroke-width="0.5">*</text>
<path d="M781 1122.8 V1400.7 M769.5 1399.3 H781 M769.5 1307.6 H781 M769.5 1215.9 H781 M769.5 1124.2 H781" fill="none" stroke="#000" stroke-width="2.8"/>
<text x="767.8" y="1406.85" transform="matrix(1 0 0 1.06 0 -84.411)" font-size="21" text-anchor="end">0</text>
<text x="767.8" y="1315.15" transform="matrix(1 0 0 1.06 0 -78.909)" font-size="21" text-anchor="end">100</text>
<text x="767.8" y="1223.45" transform="matrix(1 0 0 1.06 0 -73.407)" font-size="21" text-anchor="end">200</text>
<text x="767.8" y="1131.75" transform="matrix(1 0 0 1.06 0 -67.905)" font-size="21" text-anchor="end">300</text>
<path d="M781 1399.3 H963.1 M832.8 1399.3 V1410.8 M911.6 1399.3 V1410.8" fill="none" stroke="#000" stroke-width="2.8"/>
<text x="830.6" y="1431.6" transform="matrix(1 0 0 1.06 0 -85.896)" font-size="21" text-anchor="middle">Sham</text>
<text x="911.6" y="1433.4" transform="matrix(1 0 0 1.06 0 -86.004)" font-size="21" text-anchor="middle"><tspan font-size="15.75" dy="-7.14">56</tspan><tspan dy="7.14">Fe</tspan></text>
<text x="707.9" y="1262" transform="rotate(-90 707.9 1262) matrix(1 0 0 1.06 0 -75.72)" font-size="22" text-anchor="middle">Blank touch</text>
<path d="M807 1398V1271.2H858.8V1398" fill="#fff" stroke="#000" stroke-width="4"/>
<path d="M885.6 1398V1260.8H937.3V1398" fill="#b1b1b3" stroke="#000" stroke-width="4"/>
<path d="M832.8 1253.4 V1284.8 M819.8 1253.4 H845.8 M819.8 1284.8 H845.8" fill="none" stroke="#000" stroke-width="2.7" stroke-linecap="round"/>
<path d="M911.6 1244.7 V1272.5 M898.6 1244.7 H924.6 M898.6 1272.5 H924.6" fill="none" stroke="#000" stroke-width="2.7" stroke-linecap="round"/>
<g fill="none" stroke="#000" stroke-width="2.7">
<circle cx="832.8" cy="1194.4" r="4.15"/>
<circle cx="832.8" cy="1204.3" r="4.15"/>
<circle cx="816.7" cy="1235.3" r="4.15"/>
<circle cx="832.8" cy="1230.3" r="4.15"/>
<circle cx="832.8" cy="1240.2" r="4.15"/>
<circle cx="849.6" cy="1236" r="4.15"/>
<circle cx="832.8" cy="1266.3" r="4.15"/>
<circle cx="816.7" cy="1305.4" r="4.15"/>
<circle cx="832.8" cy="1307.1" r="4.15"/>
<circle cx="832.8" cy="1317.6" r="4.15"/>
<circle cx="832.8" cy="1333.2" r="4.15"/>
<circle cx="832.8" cy="1362.4" r="4.15"/>
</g>
<g fill="none" stroke="#000" stroke-width="2.7">
<circle cx="927.7" cy="1167.2" r="4.15"/>
<circle cx="911.6" cy="1175.1" r="4.15"/>
<circle cx="911.6" cy="1237" r="4.15"/>
<circle cx="927.7" cy="1246.4" r="4.15"/>
<circle cx="911.6" cy="1252.1" r="4.15"/>
<circle cx="911.6" cy="1272.5" r="4.15"/>
<circle cx="895" cy="1277.4" r="4.15"/>
<circle cx="911.6" cy="1283.6" r="4.15"/>
<circle cx="895" cy="1289.1" r="4.15"/>
<circle cx="927.7" cy="1291" r="4.15"/>
<circle cx="895" cy="1308.9" r="4.15"/>
<circle cx="927.7" cy="1307.9" r="4.15"/>
</g>
<path d="M1106.4 1124 V1402 M1094.9 1400.6 H1106.4 M1094.9 1331.8 H1106.4 M1094.9 1263 H1106.4 M1094.9 1194.2 H1106.4 M1094.9 1125.4 H1106.4" fill="none" stroke="#000" stroke-width="2.8"/>
<text x="1093.2" y="1408.15" transform="matrix(1 0 0 1.06 0 -84.489)" font-size="21" text-anchor="end">0.0</text>
<text x="1093.2" y="1339.35" transform="matrix(1 0 0 1.06 0 -80.361)" font-size="21" text-anchor="end">0.5</text>
<text x="1093.2" y="1270.55" transform="matrix(1 0 0 1.06 0 -76.233)" font-size="21" text-anchor="end">1.0</text>
<text x="1093.2" y="1201.75" transform="matrix(1 0 0 1.06 0 -72.105)" font-size="21" text-anchor="end">1.5</text>
<text x="1093.2" y="1132.95" transform="matrix(1 0 0 1.06 0 -67.977)" font-size="21" text-anchor="end">2.0</text>
<path d="M1106.4 1400.6 H1288.5 M1157.9 1400.6 V1412.1 M1236.4 1400.6 V1412.1" fill="none" stroke="#000" stroke-width="2.8"/>
<text x="1155.7" y="1432.9" transform="matrix(1 0 0 1.06 0 -85.974)" font-size="21" text-anchor="middle">Sham</text>
<text x="1236.4" y="1434.7" transform="matrix(1 0 0 1.06 0 -86.082)" font-size="21" text-anchor="middle"><tspan font-size="15.75" dy="-7.14">56</tspan><tspan dy="7.14">Fe</tspan></text>
<text x="1043.2" y="1262" transform="rotate(-90 1043.2 1262) matrix(1 0 0 1.06 0 -75.72)" font-size="22" text-anchor="middle">Reward collection latency (s)</text>
<path d="M1132.4 1399.3V1223.2H1183.6V1399.3" fill="#fff" stroke="#000" stroke-width="4"/>
<path d="M1210.4 1399.3V1215.5H1262.2V1399.3" fill="#b1b1b3" stroke="#000" stroke-width="4"/>
<path d="M1157.9 1209.8 V1232.1 M1144.9 1209.8 H1170.9 M1144.9 1232.1 H1170.9" fill="none" stroke="#000" stroke-width="2.7" stroke-linecap="round"/>
<path d="M1236.4 1205.6 V1221.2 M1223.4 1205.6 H1249.4 M1223.4 1221.2 H1249.4" fill="none" stroke="#000" stroke-width="2.7" stroke-linecap="round"/>
<g fill="none" stroke="#000" stroke-width="2.7">
<circle cx="1151" cy="1155.5" r="4.15"/>
<circle cx="1165.3" cy="1158.5" r="4.15"/>
<circle cx="1165.3" cy="1169.6" r="4.15"/>
<circle cx="1151" cy="1203.6" r="4.15"/>
<circle cx="1151" cy="1231.1" r="4.15"/>
<circle cx="1136.1" cy="1235.3" r="4.15"/>
<circle cx="1179.5" cy="1234.5" r="4.15"/>
<circle cx="1151" cy="1241.5" r="4.15"/>
<circle cx="1165.3" cy="1241.5" r="4.15"/>
<circle cx="1165.3" cy="1255.9" r="4.15"/>
<circle cx="1151" cy="1258.3" r="4.15"/>
<circle cx="1151" cy="1270.5" r="4.15"/>
</g>
<g fill="none" stroke="#000" stroke-width="2.7">
<circle cx="1229" cy="1168.4" r="4.15"/>
<circle cx="1243.4" cy="1170.9" r="4.15"/>
<circle cx="1229" cy="1193.9" r="4.15"/>
<circle cx="1243.4" cy="1192.7" r="4.15"/>
<circle cx="1229" cy="1211.8" r="4.15"/>
<circle cx="1243.4" cy="1215" r="4.15"/>
<circle cx="1214.6" cy="1223.6" r="4.15"/>
<circle cx="1243.4" cy="1229.6" r="4.15"/>
<circle cx="1214.6" cy="1236.5" r="4.15"/>
<circle cx="1243.4" cy="1237.8" r="4.15"/>
<circle cx="1258" cy="1236.5" r="4.15"/>
<circle cx="1229" cy="1244.7" r="4.15"/>
</g>
<path d="M1410.2 1121.9 V1399.5 M1398.7 1398.1 H1410.2 M1398.7 1306.5 H1410.2 M1398.7 1214.9 H1410.2 M1398.7 1123.3 H1410.2" fill="none" stroke="#000" stroke-width="2.8"/>
<text x="1397" y="1405.65" transform="matrix(1 0 0 1.06 0 -84.339)" font-size="21" text-anchor="end">0</text>
<text x="1397" y="1314.05" transform="matrix(1 0 0 1.06 0 -78.843)" font-size="21" text-anchor="end">5</text>
<text x="1397" y="1222.45" transform="matrix(1 0 0 1.06 0 -73.347)" font-size="21" text-anchor="end">10</text>
<text x="1397" y="1130.85" transform="matrix(1 0 0 1.06 0 -67.851)" font-size="21" text-anchor="end">15</text>
<path d="M1410.2 1398.1 H1592.3 M1462.2 1398.1 V1409.6 M1540.2 1398.1 V1409.6" fill="none" stroke="#000" stroke-width="2.8"/>
<text x="1460" y="1431.1" transform="matrix(1 0 0 1.06 0 -85.866)" font-size="21" text-anchor="middle">Sham</text>
<text x="1540.2" y="1432.9" transform="matrix(1 0 0 1.06 0 -85.974)" font-size="21" text-anchor="middle"><tspan font-size="15.75" dy="-7.14">56</tspan><tspan dy="7.14">Fe</tspan></text>
<text x="1355.7" y="1260.7" transform="rotate(-90 1355.7 1260.7) matrix(1 0 0 1.06 0 -75.642)" font-size="22" text-anchor="middle">Correct image response latency (s)</text>
<path d="M1436.5 1396.8V1283.9H1488.2V1396.8" fill="#fff" stroke="#000" stroke-width="4"/>
<path d="M1514.2 1396.8V1300H1566V1396.8" fill="#b1b1b3" stroke="#000" stroke-width="4"/>
<path d="M1462.2 1265.5 V1297.7 M1449.2 1265.5 H1475.2 M1449.2 1297.7 H1475.2" fill="none" stroke="#000" stroke-width="2.7" stroke-linecap="round"/>
<path d="M1540.2 1285.6 V1309.6 M1527.2 1285.6 H1553.2 M1527.2 1309.6 H1553.2" fill="none" stroke="#000" stroke-width="2.7" stroke-linecap="round"/>
<g fill="none" stroke="#000" stroke-width="2.7">
<circle cx="1462.2" cy="1158" r="4.15"/>
<circle cx="1462.2" cy="1216.7" r="4.15"/>
<circle cx="1462.2" cy="1228.4" r="4.15"/>
<circle cx="1462.2" cy="1249.4" r="4.15"/>
<circle cx="1462.2" cy="1284.4" r="4.15"/>
<circle cx="1462.2" cy="1310.4" r="4.15"/>
<circle cx="1440.4" cy="1323.3" r="4.15"/>
<circle cx="1451" cy="1322.5" r="4.15"/>
<circle cx="1462.2" cy="1322.5" r="4.15"/>
<circle cx="1473.3" cy="1322.5" r="4.15"/>
<circle cx="1484" cy="1315.8" r="4.15"/>
<circle cx="1484" cy="1327.5" r="4.15"/>
</g>
<g fill="none" stroke="#000" stroke-width="2.7">
<circle cx="1532.8" cy="1175.1" r="4.15"/>
<circle cx="1547.7" cy="1273" r="4.15"/>
<circle cx="1532.8" cy="1295.2" r="4.15"/>
<circle cx="1547.7" cy="1295.2" r="4.15"/>
<circle cx="1562.5" cy="1295.2" r="4.15"/>
<circle cx="1532.8" cy="1308.9" r="4.15"/>
<circle cx="1547.7" cy="1312.1" r="4.15"/>
<circle cx="1518.4" cy="1320.8" r="4.15"/>
<circle cx="1532.8" cy="1319.5" r="4.15"/>
<circle cx="1547.7" cy="1323.3" r="4.15"/>
<circle cx="1562.5" cy="1320.3" r="4.15"/>
<circle cx="1532.8" cy="1336.1" r="4.15"/>
</g>
<path d="M1717 1125.4 V1403.8 M1705.5 1402.4 H1717 M1705.5 1333.5 H1717 M1705.5 1264.6 H1717 M1705.5 1195.7 H1717 M1705.5 1126.8 H1717" fill="none" stroke="#000" stroke-width="2.8"/>
<text x="1703.8" y="1409.95" transform="matrix(1 0 0 1.06 0 -84.597)" font-size="21" text-anchor="end">0</text>
<text x="1703.8" y="1341.05" transform="matrix(1 0 0 1.06 0 -80.463)" font-size="21" text-anchor="end">5</text>
<text x="1703.8" y="1272.15" transform="matrix(1 0 0 1.06 0 -76.329)" font-size="21" text-anchor="end">10</text>
<text x="1703.8" y="1203.25" transform="matrix(1 0 0 1.06 0 -72.195)" font-size="21" text-anchor="end">15</text>
<text x="1703.8" y="1134.35" transform="matrix(1 0 0 1.06 0 -68.061)" font-size="21" text-anchor="end">20</text>
<path d="M1717 1402.4 H1899 M1768.7 1402.4 V1413.9 M1847 1402.4 V1413.9" fill="none" stroke="#000" stroke-width="2.8"/>
<text x="1766.5" y="1435.1" transform="matrix(1 0 0 1.06 0 -86.106)" font-size="21" text-anchor="middle">Sham</text>
<text x="1847" y="1436.9" transform="matrix(1 0 0 1.06 0 -86.214)" font-size="21" text-anchor="middle"><tspan font-size="15.75" dy="-7.14">56</tspan><tspan dy="7.14">Fe</tspan></text>
<text x="1652.8" y="1264.9" transform="rotate(-90 1652.8 1264.9) matrix(1 0 0 1.06 0 -75.894)" font-size="22" text-anchor="middle">Incorrect image response latency (s)</text>
<path d="M1743 1401.1V1326.4H1794.7V1401.1" fill="#fff" stroke="#000" stroke-width="4"/>
<path d="M1821 1401.1V1311.5H1872.7V1401.1" fill="#b1b1b3" stroke="#000" stroke-width="4"/>
<path d="M1768.7 1314 V1335 M1755.7 1314 H1781.7 M1755.7 1335 H1781.7" fill="none" stroke="#000" stroke-width="2.7" stroke-linecap="round"/>
<path d="M1847 1289.7 V1328.8 M1834 1289.7 H1860 M1834 1328.8 H1860" fill="none" stroke="#000" stroke-width="2.7" stroke-linecap="round"/>
<g fill="none" stroke="#000" stroke-width="2.7">
<circle cx="1776.4" cy="1249.6" r="4.15"/>
<circle cx="1776.4" cy="1280.3" r="4.15"/>
<circle cx="1761.5" cy="1291.7" r="4.15"/>
<circle cx="1747.2" cy="1323.1" r="4.15"/>
<circle cx="1790.5" cy="1324.4" r="4.15"/>
<circle cx="1761.5" cy="1331.3" r="4.15"/>
<circle cx="1776.4" cy="1330.6" r="4.15"/>
<circle cx="1761.5" cy="1341.7" r="4.15"/>
<circle cx="1776.4" cy="1343.4" r="4.15"/>
<circle cx="1761.5" cy="1350.4" r="4.15"/>
<circle cx="1776.4" cy="1359" r="4.15"/>
<circle cx="1761.5" cy="1367" r="4.15"/>
</g>
<g fill="none" stroke="#000" stroke-width="2.7">
<circle cx="1854.4" cy="1166.3" r="4.15"/>
<circle cx="1839.6" cy="1202.3" r="4.15"/>
<circle cx="1854.4" cy="1258" r="4.15"/>
<circle cx="1839.6" cy="1270.6" r="4.15"/>
<circle cx="1854.4" cy="1338.7" r="4.15"/>
<circle cx="1825.2" cy="1349.1" r="4.15"/>
<circle cx="1839.6" cy="1346.6" r="4.15"/>
<circle cx="1854.4" cy="1347.4" r="4.15"/>
<circle cx="1868.5" cy="1346.6" r="4.15"/>
<circle cx="1839.6" cy="1356.1" r="4.15"/>
<circle cx="1854.4" cy="1356.1" r="4.15"/>
<circle cx="1839.6" cy="1376.4" r="4.15"/>
</g>
<path d="M88.5 1554.3 V1830.4 M77 1829 H88.5 M77 1737.9 H88.5 M77 1646.8 H88.5 M77 1555.7 H88.5" fill="none" stroke="#000" stroke-width="2.8"/>
<text x="75.3" y="1836.55" transform="matrix(1 0 0 1.06 0 -110.193)" font-size="21" text-anchor="end">0</text>
<text x="75.3" y="1745.45" transform="matrix(1 0 0 1.06 0 -104.727)" font-size="21" text-anchor="end">200</text>
<text x="75.3" y="1654.35" transform="matrix(1 0 0 1.06 0 -99.261)" font-size="21" text-anchor="end">400</text>
<text x="75.3" y="1563.25" transform="matrix(1 0 0 1.06 0 -93.795)" font-size="21" text-anchor="end">600</text>
<path d="M88.5 1829 H447.8 M143 1829 V1840.5 M225.9 1829 V1840.5 M308.9 1829 V1840.5 M392 1829 V1840.5" fill="none" stroke="#000" stroke-width="2.8"/>
<text x="140.6" y="1860.7" transform="matrix(1 0 0 1.06 0 -111.642)" font-size="21" text-anchor="middle">1st</text>
<text x="223.1" y="1860.7" transform="matrix(1 0 0 1.06 0 -111.642)" font-size="21" text-anchor="middle">2nd</text>
<text x="308.9" y="1860.7" transform="matrix(1 0 0 1.06 0 -111.642)" font-size="21" text-anchor="middle">3rd</text>
<text x="389.1" y="1860.7" transform="matrix(1 0 0 1.06 0 -111.642)" font-size="21" text-anchor="middle">4th</text>
<text x="24.3" y="1691.6" transform="rotate(-90 24.3 1691.6) matrix(1 0 0 1.06 0 -101.496)" font-size="22" text-anchor="middle">Block duration (s)</text>
<text x="269.3" y="1896.3" transform="matrix(1 0 0 1.06 0 -113.778)" font-size="22" text-anchor="middle">10-trial block</text>
<text x="366.35" y="1893.55" font-size="37.8" text-anchor="middle">****</text>
<path d="M143.5 1592 V1620.4 M137.5 1592 H149.5 M137.5 1620.4 H149.5" fill="none" stroke="#000" stroke-width="1.35" stroke-linecap="butt"/>
<path d="M226.4 1676 V1689.5 M220.4 1676 H232.4 M220.4 1689.5 H232.4" fill="none" stroke="#000" stroke-width="1.35" stroke-linecap="butt"/>
<path d="M309.4 1686.5 V1694 M303.4 1686.5 H315.4 M303.4 1694 H315.4" fill="none" stroke="#000" stroke-width="1.35" stroke-linecap="butt"/>
<path d="M392.5 1657.3 V1672.5 M386.5 1657.3 H398.5 M386.5 1672.5 H398.5" fill="none" stroke="#000" stroke-width="1.35" stroke-linecap="butt"/>
<path d="M143.5 1589 V1612 M136.25 1589 H150.75 M136.25 1612 H150.75" fill="none" stroke="#ee3224" stroke-width="1.35" stroke-linecap="butt"/>
<path d="M226.4 1690 V1701 M219.15 1690 H233.65 M219.15 1701 H233.65" fill="none" stroke="#ee3224" stroke-width="1.35" stroke-linecap="butt"/>
<path d="M309.4 1674.2 V1690.5 M302.15 1674.2 H316.65 M302.15 1690.5 H316.65" fill="none" stroke="#ee3224" stroke-width="1.35" stroke-linecap="butt"/>
<path d="M392.5 1663 V1684 M385.25 1663 H399.75 M385.25 1684 H399.75" fill="none" stroke="#ee3224" stroke-width="1.35" stroke-linecap="butt"/>
<path d="M143.5 1605.8 L226.4 1682.8 L309.4 1690.4 L392.5 1664.9" fill="none" stroke="#000" stroke-width="2.7" stroke-linecap="round" stroke-dasharray="7.5 6.1"/>
<g fill="none" stroke="#000" stroke-width="2.5">
<circle cx="143.5" cy="1605.8" r="5.45"/>
<circle cx="226.4" cy="1682.8" r="5.45"/>
<circle cx="309.4" cy="1690.4" r="5.45"/>
<circle cx="392.5" cy="1664.9" r="5.45"/>
</g>
<path d="M143.5 1600 L226.4 1695.7 L309.4 1682.3 L392.5 1673.5" fill="none" stroke="#ee3224" stroke-width="2.7"/>
<rect x="136.65" y="1593.15" width="13.7" height="13.7" fill="#ee3224"/>
<rect x="219.55" y="1688.85" width="13.7" height="13.7" fill="#ee3224"/>
<rect x="302.55" y="1675.45" width="13.7" height="13.7" fill="#ee3224"/>
<rect x="385.65" y="1666.65" width="13.7" height="13.7" fill="#ee3224"/>
<path d="M119.6 1766.9 H148.7" fill="none" stroke="#000" stroke-width="2.7" stroke-linecap="round" stroke-dasharray="7.5 6.1"/>
<g fill="none" stroke="#000" stroke-width="2.5">
<circle cx="134.15" cy="1766.9" r="5.45"/>
</g>
<text x="165.3" y="1774.3" transform="matrix(1 0 0 1.06 0 -106.458)" font-size="22.4" class="n">Sham</text>
<path d="M118.2 1795.8 H150.1" fill="none" stroke="#ee3224" stroke-width="2.7"/>
<rect x="127.3" y="1788.95" width="13.7" height="13.7" fill="#ee3224"/>
<text x="165.3" y="1802.8" transform="matrix(1 0 0 1.06 0 -108.168)" font-size="22.4" class="n"><tspan font-size="13.44" dy="-6.5">56</tspan><tspan dy="6.5">Fe</tspan></text>
<path d="M546.4 1552.35 V1828.9 M534.9 1827.5 H546.4 M534.9 1772.75 H546.4 M534.9 1718 H546.4 M534.9 1663.25 H546.4 M534.9 1608.5 H546.4 M534.9 1553.75 H546.4" fill="none" stroke="#000" stroke-width="2.8"/>
<text x="533.2" y="1835.05" transform="matrix(1 0 0 1.06 0 -110.103)" font-size="21" text-anchor="end">0</text>
<text x="533.2" y="1780.3" transform="matrix(1 0 0 1.06 0 -106.818)" font-size="21" text-anchor="end">20</text>
<text x="533.2" y="1725.55" transform="matrix(1 0 0 1.06 0 -103.533)" font-size="21" text-anchor="end">40</text>
<text x="533.2" y="1670.8" transform="matrix(1 0 0 1.06 0 -100.248)" font-size="21" text-anchor="end">60</text>
<text x="533.2" y="1616.05" transform="matrix(1 0 0 1.06 0 -96.963)" font-size="21" text-anchor="end">80</text>
<text x="533.2" y="1561.3" transform="matrix(1 0 0 1.06 0 -93.678)" font-size="21" text-anchor="end">100</text>
<path d="M546.4 1827.5 H906.9 M601.2 1827.5 V1839 M684.7 1827.5 V1839 M768.1 1827.5 V1839 M851 1827.5 V1839" fill="none" stroke="#000" stroke-width="2.8"/>
<text x="598.8" y="1859" transform="matrix(1 0 0 1.06 0 -111.54)" font-size="21" text-anchor="middle">1st</text>
<text x="681.9" y="1859" transform="matrix(1 0 0 1.06 0 -111.54)" font-size="21" text-anchor="middle">2nd</text>
<text x="768.1" y="1859" transform="matrix(1 0 0 1.06 0 -111.54)" font-size="21" text-anchor="middle">3rd</text>
<text x="848.1" y="1859" transform="matrix(1 0 0 1.06 0 -111.54)" font-size="21" text-anchor="middle">4th</text>
<text x="483.2" y="1691" transform="rotate(-90 483.2 1691) matrix(1 0 0 1.06 0 -101.46)" font-size="22" text-anchor="middle">% correct</text>
<text x="728" y="1896.3" transform="matrix(1 0 0 1.06 0 -113.778)" font-size="22" text-anchor="middle">10-trial block</text>
<path d="M601.2 1709.9 V1749.1 M595.2 1709.9 H607.2 M595.2 1749.1 H607.2" fill="none" stroke="#000" stroke-width="1.35" stroke-linecap="butt"/>
<path d="M684.7 1705.6 V1739.7 M678.7 1705.6 H690.7 M678.7 1739.7 H690.7" fill="none" stroke="#000" stroke-width="1.35" stroke-linecap="butt"/>
<path d="M768.1 1715 V1748.3 M762.1 1715 H774.1 M762.1 1748.3 H774.1" fill="none" stroke="#000" stroke-width="1.35" stroke-linecap="butt"/>
<path d="M851 1707.9 V1737.2 M845 1707.9 H857 M845 1737.2 H857" fill="none" stroke="#000" stroke-width="1.35" stroke-linecap="butt"/>
<path d="M601.2 1659.4 V1694.8 M593.95 1659.4 H608.45 M593.95 1694.8 H608.45" fill="none" stroke="#ee3224" stroke-width="1.35" stroke-linecap="butt"/>
<path d="M684.7 1654.3 V1695.5 M677.45 1654.3 H691.95 M677.45 1695.5 H691.95" fill="none" stroke="#ee3224" stroke-width="1.35" stroke-linecap="butt"/>
<path d="M768.1 1653.8 V1700.6 M760.85 1653.8 H775.35 M760.85 1700.6 H775.35" fill="none" stroke="#ee3224" stroke-width="1.35" stroke-linecap="butt"/>
<path d="M851 1612.1 V1651 M843.75 1612.1 H858.25 M843.75 1651 H858.25" fill="none" stroke="#ee3224" stroke-width="1.35" stroke-linecap="butt"/>
<path d="M601.2 1729.4 L684.7 1722.6 L768.1 1731.9 L851 1722.6" fill="none" stroke="#000" stroke-width="2.7" stroke-linecap="round" stroke-dasharray="7.5 6.1"/>
<g fill="none" stroke="#000" stroke-width="2.5">
<circle cx="601.2" cy="1729.4" r="5.45"/>
<circle cx="684.7" cy="1722.6" r="5.45"/>
<circle cx="768.1" cy="1731.9" r="5.45"/>
<circle cx="851" cy="1722.6" r="5.45"/>
</g>
<path d="M601.2 1677.1 L684.7 1675 L768.1 1677.1 L851 1631.6" fill="none" stroke="#ee3224" stroke-width="2.7"/>
<rect x="594.35" y="1670.25" width="13.7" height="13.7" fill="#ee3224"/>
<rect x="677.85" y="1668.15" width="13.7" height="13.7" fill="#ee3224"/>
<rect x="761.25" y="1670.25" width="13.7" height="13.7" fill="#ee3224"/>
<rect x="844.15" y="1624.75" width="13.7" height="13.7" fill="#ee3224"/>
<path d="M603.9 1765.5 H632.2" fill="none" stroke="#000" stroke-width="2.7" stroke-linecap="round" stroke-dasharray="7.5 6.1"/>
<g fill="none" stroke="#000" stroke-width="2.5">
<circle cx="618.05" cy="1765.5" r="5.45"/>
</g>
<text x="649" y="1772.6" transform="matrix(1 0 0 1.06 0 -106.356)" font-size="22.4" class="n">Sham</text>
<path d="M602.5 1794.1 H633.6" fill="none" stroke="#ee3224" stroke-width="2.7"/>
<rect x="611.2" y="1787.25" width="13.7" height="13.7" fill="#ee3224"/>
<text x="649" y="1801.7" transform="matrix(1 0 0 1.06 0 -108.102)" font-size="22.4" class="n"><tspan font-size="13.44" dy="-6.5">56</tspan><tspan dy="6.5">Fe</tspan></text>
<line x1="591.1" y1="1757.5" x2="591.1" y2="1803.2" stroke="#000" stroke-width="3.6" stroke-linecap="round"/>
<text x="569.8" y="1799.05" font-size="35.5" class="n" text-anchor="middle" stroke="#000" stroke-width="0.5">**</text>
<text x="858.5" y="1591.1" font-size="30" class="n" text-anchor="middle" font-style="italic">a’</text>
<path d="M991.1 1548.81 V1825.6 M979.6 1824.2 H991.1 M979.6 1732.87 H991.1 M979.6 1641.54 H991.1 M979.6 1550.21 H991.1" fill="none" stroke="#000" stroke-width="2.8"/>
<text x="977.9" y="1831.75" transform="matrix(1 0 0 1.06 0 -109.905)" font-size="21" text-anchor="end">0</text>
<text x="977.9" y="1740.42" transform="matrix(1 0 0 1.06 0 -104.4252)" font-size="21" text-anchor="end">20</text>
<text x="977.9" y="1649.09" transform="matrix(1 0 0 1.06 0 -98.9454)" font-size="21" text-anchor="end">40</text>
<text x="977.9" y="1557.76" transform="matrix(1 0 0 1.06 0 -93.4656)" font-size="21" text-anchor="end">60</text>
<path d="M991.1 1824.2 H1351.8 M1046 1824.2 V1835.7 M1128.9 1824.2 V1835.7 M1212.3 1824.2 V1835.7 M1295.2 1824.2 V1835.7" fill="none" stroke="#000" stroke-width="2.8"/>
<text x="1043.6" y="1855.3" transform="matrix(1 0 0 1.06 0 -111.318)" font-size="21" text-anchor="middle">1st</text>
<text x="1126.1" y="1855.3" transform="matrix(1 0 0 1.06 0 -111.318)" font-size="21" text-anchor="middle">2nd</text>
<text x="1212.3" y="1855.3" transform="matrix(1 0 0 1.06 0 -111.318)" font-size="21" text-anchor="middle">3rd</text>
<text x="1292.3" y="1855.3" transform="matrix(1 0 0 1.06 0 -111.318)" font-size="21" text-anchor="middle">4th</text>
<text x="939.3" y="1687" transform="rotate(-90 939.3 1687) matrix(1 0 0 1.06 0 -101.22)" font-size="22" text-anchor="middle">Blank touch</text>
<text x="1158.1" y="1896.3" transform="matrix(1 0 0 1.06 0 -113.778)" font-size="22" text-anchor="middle">10-trial block</text>
<text x="1238.4" y="1901.65" font-size="36.5" text-anchor="middle">**</text>
<path d="M1046 1645.5 V1685.1 M1040 1645.5 H1052 M1040 1685.1 H1052" fill="none" stroke="#000" stroke-width="1.35" stroke-linecap="butt"/>
<path d="M1128.9 1669.5 V1704.9 M1122.9 1669.5 H1134.9 M1122.9 1704.9 H1134.9" fill="none" stroke="#000" stroke-width="1.35" stroke-linecap="butt"/>
<path d="M1212.3 1658.1 V1703.1 M1206.3 1658.1 H1218.3 M1206.3 1703.1 H1218.3" fill="none" stroke="#000" stroke-width="1.35" stroke-linecap="butt"/>
<path d="M1295.2 1678.8 V1716.2 M1289.2 1678.8 H1301.2 M1289.2 1716.2 H1301.2" fill="none" stroke="#000" stroke-width="1.35" stroke-linecap="butt"/>
<path d="M1046 1605.8 V1642.9 M1038.75 1605.8 H1053.25 M1038.75 1642.9 H1053.25" fill="none" stroke="#ee3224" stroke-width="1.35" stroke-linecap="butt"/>
<path d="M1128.9 1666.2 V1701.8 M1121.65 1666.2 H1136.15 M1121.65 1701.8 H1136.15" fill="none" stroke="#ee3224" stroke-width="1.35" stroke-linecap="butt"/>
<path d="M1212.3 1667 V1705.6 M1205.05 1667 H1219.55 M1205.05 1705.6 H1219.55" fill="none" stroke="#ee3224" stroke-width="1.35" stroke-linecap="butt"/>
<path d="M1295.2 1680.9 V1723.8 M1287.95 1680.9 H1302.45 M1287.95 1723.8 H1302.45" fill="none" stroke="#ee3224" stroke-width="1.35" stroke-linecap="butt"/>
<path d="M1046 1665.2 L1128.9 1687.2 L1212.3 1680.1 L1295.2 1697.3" fill="none" stroke="#000" stroke-width="2.7" stroke-linecap="round" stroke-dasharray="7.5 6.1"/>
<g fill="none" stroke="#000" stroke-width="2.5">
<circle cx="1046" cy="1665.2" r="5.45"/>
<circle cx="1128.9" cy="1687.2" r="5.45"/>
<circle cx="1212.3" cy="1680.1" r="5.45"/>
<circle cx="1295.2" cy="1697.3" r="5.45"/>
</g>
<path d="M1046 1624.5 L1128.9 1684.1 L1212.3 1685.9 L1295.2 1702.8" fill="none" stroke="#ee3224" stroke-width="2.7"/>
<rect x="1039.15" y="1617.65" width="13.7" height="13.7" fill="#ee3224"/>
<rect x="1122.05" y="1677.25" width="13.7" height="13.7" fill="#ee3224"/>
<rect x="1205.45" y="1679.05" width="13.7" height="13.7" fill="#ee3224"/>
<rect x="1288.35" y="1695.95" width="13.7" height="13.7" fill="#ee3224"/>
<path d="M1025.4 1762.2 H1053.4" fill="none" stroke="#000" stroke-width="2.7" stroke-linecap="round" stroke-dasharray="7.5 6.1"/>
<g fill="none" stroke="#000" stroke-width="2.5">
<circle cx="1039.4" cy="1762.2" r="5.45"/>
</g>
<text x="1070.3" y="1769.3" transform="matrix(1 0 0 1.06 0 -106.158)" font-size="22.4" class="n">Sham</text>
<path d="M1024 1790.8 H1054.8" fill="none" stroke="#ee3224" stroke-width="2.7"/>
<rect x="1032.55" y="1783.95" width="13.7" height="13.7" fill="#ee3224"/>
<text x="1070.3" y="1798.4" transform="matrix(1 0 0 1.06 0 -107.904)" font-size="22.4" class="n"><tspan font-size="13.44" dy="-6.5">56</tspan><tspan dy="6.5">Fe</tspan></text>
<path d="M1055.6 1576.7 H1295.2 M1055.6 1569.1 V1584.3 M1295.2 1569.1 V1584.3" fill="none" stroke="#000" stroke-width="3.8" stroke-linecap="round"/>
<text x="1181.3" y="1563.3" font-size="30" class="n" text-anchor="middle" font-style="italic">c’</text>
<path d="M1459.3 1551.7 V1828.1 M1447.8 1826.7 H1459.3 M1447.8 1735.5 H1459.3 M1447.8 1644.3 H1459.3 M1447.8 1553.1 H1459.3" fill="none" stroke="#000" stroke-width="2.8"/>
<text x="1446.1" y="1834.25" transform="matrix(1 0 0 1.06 0 -110.055)" font-size="21" text-anchor="end">0</text>
<text x="1446.1" y="1743.05" transform="matrix(1 0 0 1.06 0 -104.583)" font-size="21" text-anchor="end">5</text>
<text x="1446.1" y="1651.85" transform="matrix(1 0 0 1.06 0 -99.111)" font-size="21" text-anchor="end">10</text>
<text x="1446.1" y="1560.65" transform="matrix(1 0 0 1.06 0 -93.639)" font-size="21" text-anchor="end">15</text>
<path d="M1459.3 1826.7 H1820 M1514.4 1826.7 V1838.2 M1597.3 1826.7 V1838.2 M1680.7 1826.7 V1838.2 M1763.9 1826.7 V1838.2" fill="none" stroke="#000" stroke-width="2.8"/>
<text x="1512" y="1857.8" transform="matrix(1 0 0 1.06 0 -111.468)" font-size="21" text-anchor="middle">1st</text>
<text x="1594.5" y="1857.8" transform="matrix(1 0 0 1.06 0 -111.468)" font-size="21" text-anchor="middle">2nd</text>
<text x="1680.7" y="1857.8" transform="matrix(1 0 0 1.06 0 -111.468)" font-size="21" text-anchor="middle">3rd</text>
<text x="1761" y="1857.8" transform="matrix(1 0 0 1.06 0 -111.468)" font-size="21" text-anchor="middle">4th</text>
<text x="1407.7" y="1689.7" transform="rotate(-90 1407.7 1689.7) matrix(1 0 0 1.06 0 -101.382)" font-size="22" text-anchor="middle">Left and Right touch during ITI</text>
<text x="1640.8" y="1896.3" transform="matrix(1 0 0 1.06 0 -113.778)" font-size="22" text-anchor="middle">10-trial block</text>
<path d="M1514.4 1685.1 V1719.5 M1508.4 1685.1 H1520.4 M1508.4 1719.5 H1520.4" fill="none" stroke="#000" stroke-width="1.35" stroke-linecap="butt"/>
<path d="M1597.3 1572.9 V1646.3 M1591.3 1572.9 H1603.3 M1591.3 1646.3 H1603.3" fill="none" stroke="#000" stroke-width="1.35" stroke-linecap="butt"/>
<path d="M1680.7 1635.9 V1693.5 M1674.7 1635.9 H1686.7 M1674.7 1693.5 H1686.7" fill="none" stroke="#000" stroke-width="1.35" stroke-linecap="butt"/>
<path d="M1763.9 1637.9 V1699.8 M1757.9 1637.9 H1769.9 M1757.9 1699.8 H1769.9" fill="none" stroke="#000" stroke-width="1.35" stroke-linecap="butt"/>
<path d="M1514.4 1637.4 V1694.2 M1507.15 1637.4 H1521.65 M1507.15 1694.2 H1521.65" fill="none" stroke="#ee3224" stroke-width="1.35" stroke-linecap="butt"/>
<path d="M1597.3 1621.4 V1667.7 M1590.05 1621.4 H1604.55 M1590.05 1667.7 H1604.55" fill="none" stroke="#ee3224" stroke-width="1.35" stroke-linecap="butt"/>
<path d="M1680.7 1661.9 V1699.8 M1673.45 1661.9 H1687.95 M1673.45 1699.8 H1687.95" fill="none" stroke="#ee3224" stroke-width="1.35" stroke-linecap="butt"/>
<path d="M1763.9 1629.5 V1678.3 M1756.65 1629.5 H1771.15 M1756.65 1678.3 H1771.15" fill="none" stroke="#ee3224" stroke-width="1.35" stroke-linecap="butt"/>
<path d="M1514.4 1702.8 L1597.3 1609.6 L1680.7 1664.4 L1763.9 1669" fill="none" stroke="#000" stroke-width="2.7" stroke-linecap="round" stroke-dasharray="7.5 6.1"/>
<g fill="none" stroke="#000" stroke-width="2.5">
<circle cx="1514.4" cy="1702.8" r="5.45"/>
<circle cx="1597.3" cy="1609.6" r="5.45"/>
<circle cx="1680.7" cy="1664.4" r="5.45"/>
<circle cx="1763.9" cy="1669" r="5.45"/>
</g>
<path d="M1514.4 1666.2 L1597.3 1644.7 L1680.7 1680.9 L1763.9 1653.6" fill="none" stroke="#ee3224" stroke-width="2.7"/>
<rect x="1507.55" y="1659.35" width="13.7" height="13.7" fill="#ee3224"/>
<rect x="1590.45" y="1637.85" width="13.7" height="13.7" fill="#ee3224"/>
<rect x="1673.85" y="1674.05" width="13.7" height="13.7" fill="#ee3224"/>
<rect x="1757.05" y="1646.75" width="13.7" height="13.7" fill="#ee3224"/>
<path d="M1493.6 1764.8 H1521.9" fill="none" stroke="#000" stroke-width="2.7" stroke-linecap="round" stroke-dasharray="7.5 6.1"/>
<g fill="none" stroke="#000" stroke-width="2.5">
<circle cx="1507.75" cy="1764.8" r="5.45"/>
</g>
<text x="1539.3" y="1771.9" transform="matrix(1 0 0 1.06 0 -106.314)" font-size="22.4" class="n">Sham</text>
<path d="M1492.2 1793.3 H1523.3" fill="none" stroke="#ee3224" stroke-width="2.7"/>
<rect x="1500.9" y="1786.45" width="13.7" height="13.7" fill="#ee3224"/>
<text x="1539.3" y="1800.9" transform="matrix(1 0 0 1.06 0 -108.054)" font-size="22.4" class="n"><tspan font-size="13.44" dy="-6.5">56</tspan><tspan dy="6.5">Fe</tspan></text>
</svg></body></html>
